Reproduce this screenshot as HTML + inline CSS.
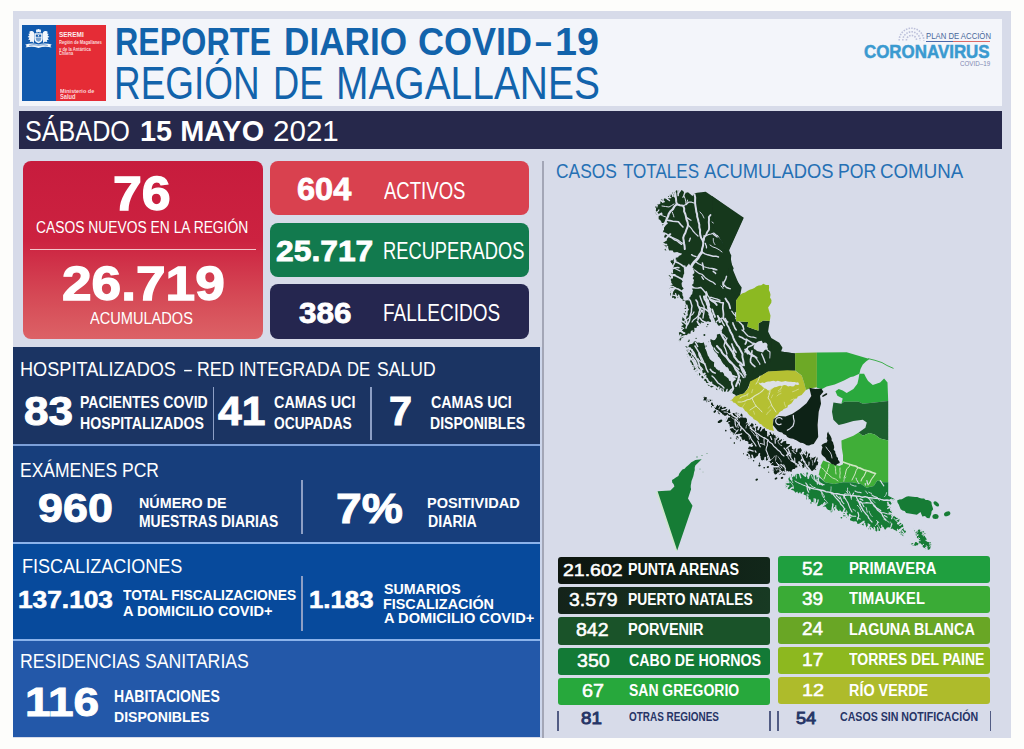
<!DOCTYPE html>
<html lang="es">
<head>
<meta charset="utf-8">
<title>Reporte Diario COVID-19 - Región de Magallanes</title>
<style>
html,body{margin:0;padding:0;}
body{width:1024px;height:749px;overflow:hidden;background:#fdfdfb;font-family:"Liberation Sans",sans-serif;position:relative;}
.b{position:absolute;}
.t{position:absolute;white-space:nowrap;line-height:1;transform-origin:0 0;letter-spacing:0;}
#card{left:13px;top:11px;width:998px;height:727px;background:#d7dbe9;}
#head{left:19px;top:19px;width:983px;height:87px;background:#f3f5fa;}
#bar{left:19px;top:111px;width:983px;height:38px;background:#26284b;}
#lgb{left:21.6px;top:25.3px;width:34.6px;height:76.1px;background:#1059ad;}
#lgr{left:56.1px;top:25.3px;width:49.9px;height:76.1px;background:#e52c36;}
#red{left:22.5px;top:160.5px;width:240px;height:178px;border-radius:8px;background:linear-gradient(180deg,#c71c3d 0%,#cc2240 45%,#d54855 75%,#dc6266 100%);}
#redline{left:29.5px;top:249.2px;width:226px;height:1.2px;background:#f3c6cb;}
.sb{left:269.7px;width:259.5px;border-radius:8px;}
#act{top:161px;height:54.2px;background:#d9414f;}
#rec{top:222.5px;height:54.7px;background:#127a4e;}
#fal{top:284px;height:54.8px;background:#25264f;}
.pn{left:13px;width:526.7px;}
#p1{top:347.2px;height:97.8px;background:#1b3463;}
#p2{top:445px;height:97.5px;background:#173e7c;}
#p3{top:542.5px;height:97.5px;background:#074a9c;}
#p4{top:640px;height:96.7px;background:#2358a9;}
.hl{left:13px;width:526.7px;height:2px;background:#7c9fd8;}
.vl{width:1.8px;background:#8d9fc5;}
#gv{left:541.9px;top:160.5px;width:1.8px;height:577px;background:#a3a6b6;}
.lg{height:27.2px;border-radius:3px;}
.ll{left:557.6px;width:212px;}
.lr{left:778.1px;width:212px;}
.nb{width:1.8px;top:710.5px;height:20px;background:#525c84;}
</style>
</head>
<body>
<div class="b" id="card"></div>
<div class="b" id="head"></div>
<div class="b" id="bar"></div>
<div class="b" id="lgb"></div>
<div class="b" id="lgr"></div>
<svg class="b" style="left:24.900px;top:29.100px" width="27" height="19.2" viewBox="0 0 27 19.2"><g fill="#fff" fill-opacity=".95">
<ellipse cx="12" cy="2" rx="1" ry="1.800"/><ellipse cx="13.500" cy="1.500" rx="1" ry="1.800"/><ellipse cx="15" cy="2" rx="1" ry="1.800"/>
<path d="M9.300 4.200h8.400v5.600q0 3.200-4.200 4.500q-4.200-1.300-4.200-4.500z"/>
<path d="M9 3.600c-1.200-1.800-3.600-1.900-4.900-.6l1 1.200-1.900.8 1.300 1.300-1.900 1.600 1.900.9-1.300 1.900 2 .4-.5 2 2.500-.3 1.800 1.200z"/>
<path d="M18 3.600c1.200-1.800 3.600-1.900 4.900-.6l-1 1.200 1.900.8-1.300 1.300 1.900 1.600-1.900.9 1.300 1.900-2 .4.500 2-2.500-.3-1.800 1.200z"/>
<path d="M.3 15.600q6.600-2.200 13.200-.2q6.600-2 13.200.2l-1.400 1.300 1.200 1.700q-6.500-1.700-13 .3q-6.500-2-13-.3l1.200-1.700z"/></g>
<g fill="#1059ad"><rect x="10.800" y="5.600" width="5.400" height="2.200"/><path d="M10.800 8.600h5.400v1.300q0 1.900-2.700 2.900q-2.700-1-2.700-2.900z" fill-opacity=".55"/><circle cx="13.500" cy="6.700" r=".7" fill="#fff"/>
<path d="M4 15.900q4.700-1.300 9.500-.1q4.800-1.200 9.500.1l-.2.900q-4.600-1.200-9.300 0q-4.700-1.200-9.300 0z" fill-opacity=".6"/></g></svg>

<div class="b" id="red"></div><div class="b" id="redline"></div>
<div class="b sb" id="act"></div><div class="b sb" id="rec"></div><div class="b sb" id="fal"></div>

<div class="b pn" id="p1"></div><div class="b pn" id="p2"></div><div class="b pn" id="p3"></div><div class="b pn" id="p4"></div>
<div class="b hl" style="top:444px"></div><div class="b hl" style="top:541.6px;background:#8bb3eb"></div><div class="b hl" style="top:638.900px;background:#8bb3eb"></div>
<div class="b" style="left:539.700px;top:347.200px;width:2.2px;height:389.5px;background:#cdd6eb"></div>
<div class="b vl" style="left:212.6px;top:387px;height:53px"></div>
<div class="b vl" style="left:370.2px;top:387px;height:53px"></div>
<div class="b vl" style="left:301.4px;top:480px;height:54px"></div>
<div class="b vl" style="left:301.4px;top:576px;height:55px"></div>
<div class="b" id="gv"></div>

<svg class="b" style="left:0;top:0" width="1024" height="749" viewBox="0 0 1024 749">
<defs><filter id="sf" x="640" y="180" width="330" height="380" filterUnits="userSpaceOnUse"><feGaussianBlur stdDeviation="0.4"/></filter></defs>
<g filter="url(#sf)">
<path d="M676.0 190.6L677.4 190.2L678.8 190.5L680.2 191.4L681.7 189.9L683.0 191.0L684.4 192.5L686.1 192.8L688.0 192.2L692.5 196.0L694.5 193.5L697.0 192.7L705.7 191.7L743.8 217.8L728.9 250.7L731.3 255.5L730.5 261.9L733.7 268.3L732.1 272.3L736.1 279.5L741.7 287.5L740.1 295.5L736.1 300.4L736.1 321.2L748.1 322.0L747.3 326.8L752.1 328.4L758.5 330.8L758.5 323.6L763.3 320.4L769.7 321.0L768.1 331.6L771.3 338.0L779.3 342.8L782.5 347.7L781.0 351.5L795.1 353.5L795.1 370.6L768.0 371.4L757.2 378.0L750.0 382.8L747.6 388.8L744.0 393.6L736.0 396.0L735.1 394.7L733.8 394.0L732.4 393.7L731.0 393.2L729.7 392.5L728.1 391.6L726.5 391.9L724.9 391.4L723.3 392.3L722.3 391.2L721.0 391.0L719.8 390.5L718.4 390.6L717.2 390.1L716.0 389.5L715.6 387.3L714.4 386.8L712.9 386.9L711.1 387.5L710.1 386.6L708.9 386.0L707.7 385.1L707.1 383.7L706.2 382.5L705.5 381.1L704.0 380.5L703.3 378.9L702.1 378.1L701.0 377.1L700.0 376.0L698.6 375.4L697.0 375.0L697.3 373.4L696.3 372.4L694.4 372.0L694.8 370.2L693.4 369.5L694.7 367.3L692.5 367.0L692.4 365.5L691.8 364.3L691.5 362.8L690.2 361.9L690.5 360.2L689.5 359.1L688.5 358.0L687.6 356.9L688.4 355.3L686.6 354.4L686.8 352.9L687.6 351.4L686.5 350.3L686.2 349.0L685.9 347.4L685.2 346.0L685.4 344.2L684.0 343.0L680.0 342.5L679.6 341.2L678.6 339.9L680.0 338.2L678.8 337.0L679.3 335.7L679.2 334.2L678.8 332.7L680.6 331.6L680.5 330.2L681.0 328.8L681.3 327.5L681.2 326.0L683.7 325.1L682.1 323.4L681.5 321.9L682.4 320.7L682.1 319.3L682.5 318.0L682.6 316.6L684.5 315.6L683.5 314.0L684.0 312.7L685.1 311.5L686.0 310.3L684.3 308.4L686.2 307.4L685.3 305.7L686.0 304.4L685.5 302.8L685.3 300.9L682.8 301.1L682.6 299.2L681.0 298.5L679.6 297.1L678.0 298.2L676.5 297.6L674.9 299.0L673.5 297.4L672.0 297.9L672.2 296.5L670.2 295.7L670.1 294.4L670.3 293.0L670.1 291.7L671.9 289.8L669.6 289.1L669.0 287.6L671.0 286.7L670.4 285.2L672.9 284.5L671.2 282.7L671.3 281.2L670.7 279.9L669.6 278.8L670.9 277.0L668.9 276.1L668.8 274.7L670.9 274.6L671.3 273.1L672.2 272.1L673.1 271.0L672.7 268.7L674.4 268.3L672.9 267.6L673.4 265.7L672.2 264.8L671.9 263.4L670.6 262.5L670.4 261.1L671.5 260.3L673.0 260.2L673.7 258.9L674.4 257.5L676.4 258.0L677.0 256.5L681.6 253.9L672.0 252.3L671.0 250.5L669.4 251.5L667.7 252.8L666.6 251.7L665.3 251.1L664.0 250.7L665.0 249.1L665.4 247.6L664.8 246.4L663.6 245.3L662.4 244.3L663.1 242.7L664.4 241.9L665.8 241.1L667.2 240.3L666.5 239.0L665.1 238.2L664.2 237.1L664.4 235.2L664.9 233.1L662.4 233.0L662.7 231.3L664.0 230.0L664.0 228.2L664.0 226.8L662.8 225.9L662.4 224.6L661.7 223.5L661.5 222.1L660.8 221.0L660.2 219.9L658.7 219.3L658.6 217.8L658.7 216.1L658.0 215.1L656.2 214.7L655.3 213.7L655.2 212.2L655.7 210.9L656.0 209.6L656.1 208.2L654.9 206.8L658.2 205.8L656.0 204.2L657.9 204.5L659.4 204.2L660.5 203.3L660.0 200.2L661.3 199.6L663.1 199.7L664.0 198.6L665.8 198.4L667.3 197.9L667.9 196.3L669.4 195.7L670.0 194.0L671.4 193.8L672.0 191.9L673.7 192.1L675.4 192.4Z" fill="#17371f"/>
<path d="M680.5 189.8L679.9 191.2L679.1 192.4L678.3 193.7" fill="none" stroke="#d7dbe9" stroke-width="1.4" stroke-linecap="round" stroke-linejoin="round"/>
<path d="M677.8 189.7L678.1 191.1L678.1 192.6L678.1 194.1L678.2 195.6" fill="none" stroke="#d7dbe9" stroke-width="1.5" stroke-linecap="round" stroke-linejoin="round"/>
<path d="M684.4 190.2L684.7 191.6L684.5 193.1L684.2 194.6L683.6 196.0L682.9 197.3" fill="none" stroke="#d7dbe9" stroke-width="1.3" stroke-linecap="round" stroke-linejoin="round"/>
<path d="M684.4 190.1L684.7 191.6L685.2 193.0" fill="none" stroke="#d7dbe9" stroke-width="1.1" stroke-linecap="round" stroke-linejoin="round"/>
<path d="M729.5 393.4L730.8 392.6L731.9 391.6L732.8 390.4" fill="none" stroke="#d7dbe9" stroke-width="1.3" stroke-linecap="round" stroke-linejoin="round"/>
<path d="M732.4 395.0L732.0 393.6L731.4 392.2L730.6 390.9" fill="none" stroke="#d7dbe9" stroke-width="1.5" stroke-linecap="round" stroke-linejoin="round"/>
<path d="M725.3 393.5L726.1 392.3L726.7 390.9L727.1 389.5" fill="none" stroke="#d7dbe9" stroke-width="1.4" stroke-linecap="round" stroke-linejoin="round"/>
<path d="M728.2 393.6L729.1 392.4L730.1 391.2L730.9 390.0L732.1 389.1L733.4 388.3" fill="none" stroke="#d7dbe9" stroke-width="1.8" stroke-linecap="round" stroke-linejoin="round"/>
<path d="M718.0 391.4L718.3 390.0L718.6 388.5L718.9 387.0" fill="none" stroke="#d7dbe9" stroke-width="1.5" stroke-linecap="round" stroke-linejoin="round"/>
<path d="M721.8 392.8L721.1 391.5L720.7 390.0L720.9 388.5" fill="none" stroke="#d7dbe9" stroke-width="1.6" stroke-linecap="round" stroke-linejoin="round"/>
<path d="M714.6 390.1L715.0 388.7L714.9 387.2" fill="none" stroke="#d7dbe9" stroke-width="1.4" stroke-linecap="round" stroke-linejoin="round"/>
<path d="M708.7 387.2L709.7 386.1L710.8 385.1L711.4 383.7L711.7 382.2" fill="none" stroke="#d7dbe9" stroke-width="1.2" stroke-linecap="round" stroke-linejoin="round"/>
<path d="M706.0 384.2L707.5 383.7L708.9 383.4L710.4 383.2" fill="none" stroke="#d7dbe9" stroke-width="1.1" stroke-linecap="round" stroke-linejoin="round"/>
<path d="M705.6 383.8L707.1 383.9L708.5 384.0L709.9 384.5L711.4 385.0" fill="none" stroke="#d7dbe9" stroke-width="1.4" stroke-linecap="round" stroke-linejoin="round"/>
<path d="M698.5 377.7L699.8 376.8L700.8 375.8L702.1 374.9L703.5 374.4L704.8 373.6" fill="none" stroke="#d7dbe9" stroke-width="1.9" stroke-linecap="round" stroke-linejoin="round"/>
<path d="M702.5 380.8L703.4 379.6L704.1 378.3L705.1 377.2L705.7 375.8" fill="none" stroke="#d7dbe9" stroke-width="1.7" stroke-linecap="round" stroke-linejoin="round"/>
<path d="M699.0 378.1L699.6 376.7L700.6 375.6L701.5 374.4" fill="none" stroke="#d7dbe9" stroke-width="1.4" stroke-linecap="round" stroke-linejoin="round"/>
<path d="M698.6 377.5L698.3 376.0L698.2 374.5L697.7 373.1" fill="none" stroke="#d7dbe9" stroke-width="1.8" stroke-linecap="round" stroke-linejoin="round"/>
<path d="M693.6 371.4L694.9 370.7L696.1 369.7L697.1 368.6" fill="none" stroke="#d7dbe9" stroke-width="1.6" stroke-linecap="round" stroke-linejoin="round"/>
<path d="M694.4 372.8L695.9 372.6L697.2 371.9L698.5 371.2L699.7 370.2" fill="none" stroke="#d7dbe9" stroke-width="1.8" stroke-linecap="round" stroke-linejoin="round"/>
<path d="M693.9 371.9L695.2 371.1L696.6 370.7L697.9 369.9" fill="none" stroke="#d7dbe9" stroke-width="1.1" stroke-linecap="round" stroke-linejoin="round"/>
<path d="M695.5 374.6L696.5 373.6L697.9 372.9L699.1 372.1L700.6 371.7" fill="none" stroke="#d7dbe9" stroke-width="2.0" stroke-linecap="round" stroke-linejoin="round"/>
<path d="M688.7 360.8L689.4 359.5L689.8 358.0L690.7 356.8L691.5 355.5L691.9 354.1" fill="none" stroke="#d7dbe9" stroke-width="1.1" stroke-linecap="round" stroke-linejoin="round"/>
<path d="M690.6 365.6L692.1 365.6L693.5 366.1" fill="none" stroke="#d7dbe9" stroke-width="1.4" stroke-linecap="round" stroke-linejoin="round"/>
<path d="M688.1 359.8L689.4 359.1L690.9 358.8L692.4 358.7" fill="none" stroke="#d7dbe9" stroke-width="1.6" stroke-linecap="round" stroke-linejoin="round"/>
<path d="M685.1 349.7L686.5 349.1L687.9 348.6L689.4 348.3" fill="none" stroke="#d7dbe9" stroke-width="1.6" stroke-linecap="round" stroke-linejoin="round"/>
<path d="M687.8 358.7L688.4 357.3L688.5 355.8" fill="none" stroke="#d7dbe9" stroke-width="1.3" stroke-linecap="round" stroke-linejoin="round"/>
<path d="M686.4 354.0L687.2 352.8L688.5 351.9L689.4 350.8" fill="none" stroke="#d7dbe9" stroke-width="1.3" stroke-linecap="round" stroke-linejoin="round"/>
<path d="M683.0 343.8L684.5 343.7L686.0 343.9" fill="none" stroke="#d7dbe9" stroke-width="1.9" stroke-linecap="round" stroke-linejoin="round"/>
<path d="M684.5 347.3L685.8 347.9L687.3 348.3L688.6 349.0L690.0 349.6" fill="none" stroke="#d7dbe9" stroke-width="1.3" stroke-linecap="round" stroke-linejoin="round"/>
<path d="M684.8 348.1L686.2 348.6L687.7 348.9" fill="none" stroke="#d7dbe9" stroke-width="1.3" stroke-linecap="round" stroke-linejoin="round"/>
<path d="M678.2 338.8L679.0 337.5L679.8 336.2L680.7 335.0" fill="none" stroke="#d7dbe9" stroke-width="1.9" stroke-linecap="round" stroke-linejoin="round"/>
<path d="M677.9 337.4L679.4 337.4L680.8 337.1L682.3 336.7L683.6 336.1" fill="none" stroke="#d7dbe9" stroke-width="1.4" stroke-linecap="round" stroke-linejoin="round"/>
<path d="M679.1 330.4L680.5 331.1L681.8 331.8L683.1 332.5L684.5 333.1" fill="none" stroke="#d7dbe9" stroke-width="1.8" stroke-linecap="round" stroke-linejoin="round"/>
<path d="M679.3 329.2L680.8 329.3L682.3 329.2" fill="none" stroke="#d7dbe9" stroke-width="1.4" stroke-linecap="round" stroke-linejoin="round"/>
<path d="M680.0 326.0L681.1 326.9L682.5 327.7L683.7 328.5" fill="none" stroke="#d7dbe9" stroke-width="1.2" stroke-linecap="round" stroke-linejoin="round"/>
<path d="M682.4 314.3L683.6 315.2L684.7 316.2L685.6 317.4" fill="none" stroke="#d7dbe9" stroke-width="1.6" stroke-linecap="round" stroke-linejoin="round"/>
<path d="M681.1 320.3L682.3 321.3L683.6 322.0L684.7 323.0L685.9 323.9L686.7 325.2" fill="none" stroke="#d7dbe9" stroke-width="1.4" stroke-linecap="round" stroke-linejoin="round"/>
<path d="M683.5 310.5L685.0 310.2L686.4 309.6L687.9 309.5" fill="none" stroke="#d7dbe9" stroke-width="2.0" stroke-linecap="round" stroke-linejoin="round"/>
<path d="M677.2 299.4L676.7 298.0L676.5 296.5L676.0 295.1L675.6 293.7" fill="none" stroke="#d7dbe9" stroke-width="1.3" stroke-linecap="round" stroke-linejoin="round"/>
<path d="M679.8 299.6L679.2 298.2L679.0 296.7L678.6 295.3" fill="none" stroke="#d7dbe9" stroke-width="1.7" stroke-linecap="round" stroke-linejoin="round"/>
<path d="M670.8 296.8L671.5 295.5L671.7 294.0L672.1 292.6L672.3 291.1L672.9 289.7" fill="none" stroke="#d7dbe9" stroke-width="1.8" stroke-linecap="round" stroke-linejoin="round"/>
<path d="M669.3 292.4L670.7 292.0L672.1 291.4L673.2 290.4L674.0 289.1L674.8 287.8" fill="none" stroke="#d7dbe9" stroke-width="1.7" stroke-linecap="round" stroke-linejoin="round"/>
<path d="M668.7 290.4L670.0 289.7L671.5 289.3L672.9 288.7" fill="none" stroke="#d7dbe9" stroke-width="1.2" stroke-linecap="round" stroke-linejoin="round"/>
<path d="M669.2 287.0L670.1 288.2L671.3 289.2L672.0 290.5" fill="none" stroke="#d7dbe9" stroke-width="1.2" stroke-linecap="round" stroke-linejoin="round"/>
<path d="M669.2 285.9L670.6 286.4L672.1 286.6L673.6 286.8" fill="none" stroke="#d7dbe9" stroke-width="1.3" stroke-linecap="round" stroke-linejoin="round"/>
<path d="M669.2 280.1L670.3 279.1L671.1 277.8L672.1 276.7" fill="none" stroke="#d7dbe9" stroke-width="1.4" stroke-linecap="round" stroke-linejoin="round"/>
<path d="M669.7 272.3L670.3 273.7L671.2 274.9L671.9 276.2L672.1 277.7" fill="none" stroke="#d7dbe9" stroke-width="1.9" stroke-linecap="round" stroke-linejoin="round"/>
<path d="M671.7 269.9L672.1 271.3L672.4 272.8" fill="none" stroke="#d7dbe9" stroke-width="1.5" stroke-linecap="round" stroke-linejoin="round"/>
<path d="M667.7 274.3L669.2 274.4L670.6 275.0L672.1 275.1L673.5 274.7L675.0 274.6" fill="none" stroke="#d7dbe9" stroke-width="1.4" stroke-linecap="round" stroke-linejoin="round"/>
<path d="M673.3 268.7L674.6 268.0L676.0 267.6L677.5 267.5L679.0 267.7" fill="none" stroke="#d7dbe9" stroke-width="1.4" stroke-linecap="round" stroke-linejoin="round"/>
<path d="M672.4 266.9L673.0 265.6L673.8 264.3L674.5 263.0L675.2 261.6L675.8 260.3" fill="none" stroke="#d7dbe9" stroke-width="1.5" stroke-linecap="round" stroke-linejoin="round"/>
<path d="M674.7 256.8L674.9 258.3L674.8 259.8L674.6 261.3" fill="none" stroke="#d7dbe9" stroke-width="1.8" stroke-linecap="round" stroke-linejoin="round"/>
<path d="M669.1 252.8L668.5 251.5L668.0 250.1L667.5 248.7" fill="none" stroke="#d7dbe9" stroke-width="1.8" stroke-linecap="round" stroke-linejoin="round"/>
<path d="M664.7 251.7L663.6 250.7L662.5 249.7L661.2 248.9L659.9 248.2L658.8 247.1" fill="none" stroke="#d7dbe9" stroke-width="1.3" stroke-linecap="round" stroke-linejoin="round"/>
<path d="M668.2 252.5L667.5 251.3L667.1 249.8L667.2 248.3L667.3 246.8" fill="none" stroke="#d7dbe9" stroke-width="1.9" stroke-linecap="round" stroke-linejoin="round"/>
<path d="M661.5 244.5L662.7 245.4L664.0 246.1L665.1 247.1L666.0 248.3L667.0 249.5" fill="none" stroke="#d7dbe9" stroke-width="1.8" stroke-linecap="round" stroke-linejoin="round"/>
<path d="M662.1 243.4L663.5 243.9L664.9 244.4L666.4 244.7" fill="none" stroke="#d7dbe9" stroke-width="1.8" stroke-linecap="round" stroke-linejoin="round"/>
<path d="M665.2 239.3L666.0 238.1L667.1 237.1L668.5 236.4L669.5 235.4" fill="none" stroke="#d7dbe9" stroke-width="1.2" stroke-linecap="round" stroke-linejoin="round"/>
<path d="M665.3 239.6L666.2 238.4L667.2 237.2L668.1 236.0L669.1 235.0L670.4 234.1" fill="none" stroke="#d7dbe9" stroke-width="1.8" stroke-linecap="round" stroke-linejoin="round"/>
<path d="M662.1 231.1L662.8 232.4L663.7 233.6L664.6 234.8" fill="none" stroke="#d7dbe9" stroke-width="1.4" stroke-linecap="round" stroke-linejoin="round"/>
<path d="M662.6 227.5L663.7 226.5L664.6 225.3L665.5 224.1L666.8 223.3" fill="none" stroke="#d7dbe9" stroke-width="1.9" stroke-linecap="round" stroke-linejoin="round"/>
<path d="M660.6 223.5L662.1 223.6L663.6 223.4L665.1 223.0L666.6 223.2" fill="none" stroke="#d7dbe9" stroke-width="1.3" stroke-linecap="round" stroke-linejoin="round"/>
<path d="M655.4 214.6L656.0 213.3L657.0 212.2L658.1 211.1L658.9 209.9" fill="none" stroke="#d7dbe9" stroke-width="1.2" stroke-linecap="round" stroke-linejoin="round"/>
<path d="M655.8 215.3L657.2 215.0L658.7 214.8L660.2 214.5L661.7 214.4" fill="none" stroke="#d7dbe9" stroke-width="1.7" stroke-linecap="round" stroke-linejoin="round"/>
<path d="M656.4 216.3L657.7 215.6L659.1 214.9L660.3 214.1L661.6 213.3" fill="none" stroke="#d7dbe9" stroke-width="1.6" stroke-linecap="round" stroke-linejoin="round"/>
<path d="M654.3 211.0L655.6 211.8L656.6 212.9L657.7 213.9" fill="none" stroke="#d7dbe9" stroke-width="1.6" stroke-linecap="round" stroke-linejoin="round"/>
<path d="M659.9 200.0L661.1 200.9L662.5 201.5L664.0 201.7" fill="none" stroke="#d7dbe9" stroke-width="1.8" stroke-linecap="round" stroke-linejoin="round"/>
<path d="M663.0 198.0L663.2 199.4L663.1 200.9L662.7 202.4" fill="none" stroke="#d7dbe9" stroke-width="1.2" stroke-linecap="round" stroke-linejoin="round"/>
<path d="M656.5 202.5L656.5 204.0L657.0 205.4L657.0 206.9" fill="none" stroke="#d7dbe9" stroke-width="1.2" stroke-linecap="round" stroke-linejoin="round"/>
<path d="M664.7 196.9L665.9 197.7L667.1 198.7L668.3 199.6L669.5 200.5" fill="none" stroke="#d7dbe9" stroke-width="1.4" stroke-linecap="round" stroke-linejoin="round"/>
<path d="M666.8 195.0L667.3 196.5L667.5 197.9L667.5 199.4" fill="none" stroke="#d7dbe9" stroke-width="1.2" stroke-linecap="round" stroke-linejoin="round"/>
<path d="M665.0 196.4L666.4 196.9L667.8 197.5L669.3 197.7L670.8 197.6" fill="none" stroke="#d7dbe9" stroke-width="1.3" stroke-linecap="round" stroke-linejoin="round"/>
<path d="M671.3 192.1L671.7 193.5L672.5 194.8L672.9 196.2" fill="none" stroke="#d7dbe9" stroke-width="1.6" stroke-linecap="round" stroke-linejoin="round"/>
<path d="M670.3 192.5L670.2 194.0L669.9 195.5L669.5 196.9" fill="none" stroke="#d7dbe9" stroke-width="1.4" stroke-linecap="round" stroke-linejoin="round"/>
<path d="M672.3 191.3L673.3 192.5L673.9 193.9L674.3 195.3L674.6 196.8" fill="none" stroke="#d7dbe9" stroke-width="1.3" stroke-linecap="round" stroke-linejoin="round"/>
<path d="M679.0 339.5L680.6 338.7L682.3 337.9L683.7 336.9L684.5 334.8L686.9 335.2L688.0 333.5L690.4 333.8L690.7 331.5L691.9 330.3L694.5 330.8L694.2 327.8L696.4 328.0L697.0 326.0L699.2 326.1L700.3 324.4L701.0 322.3L703.7 323.0L704.5 321.0L706.0 322.2L708.0 321.2L709.6 322.0L711.4 321.7L713.0 322.5L714.5 323.3L716.5 322.5L717.6 324.6L718.9 326.0L721.0 324.7L722.5 325.5L723.3 327.2L722.7 328.8L721.6 330.3L722.0 332.0L721.0 333.5L719.0 334.0L716.9 334.5L716.9 336.9L716.0 338.5L714.9 340.1L713.1 340.3L710.5 339.0L710.3 342.2L708.5 342.5L706.5 343.2L704.3 342.1L702.3 343.0L700.6 343.0L699.0 342.4L697.2 342.8L695.8 341.3L694.0 341.5L693.1 343.2L691.6 344.1L689.7 344.3L688.6 345.7L687.0 346.5L685.1 346.2L683.4 345.0L681.7 343.6L679.5 345.0Z" fill="#d7dbe9"/>
<path d="M703.5 341.5L705.5 341.8L707.5 341.1L709.5 341.0L711.0 342.3L711.2 344.3L712.2 345.9L713.2 347.5L713.3 349.5L714.5 351.0L715.4 352.5L716.8 353.6L717.9 354.9L717.8 357.0L718.7 358.5L720.7 359.3L720.7 361.3L722.0 362.5L722.2 364.9L724.8 364.8L725.3 366.9L727.5 367.3L728.6 368.8L729.3 370.7L731.0 371.5L731.8 373.2L732.6 375.0L734.6 375.9L735.2 377.8L736.0 379.5L734.0 380.7L732.5 382.5L731.6 380.9L729.5 380.6L729.1 378.4L727.3 377.7L726.0 376.5L724.4 375.7L723.9 373.7L722.8 372.3L720.6 372.2L719.2 371.1L718.0 369.9L716.4 369.1L715.5 367.5L714.0 366.5L714.0 364.4L714.2 362.2L712.4 361.3L711.0 360.2L709.8 358.9L709.3 357.2L708.0 356.0Z" fill="#d7dbe9"/>
<path d="M689.0 263.5L690.1 265.4L691.6 266.9L693.5 268.0L693.5 269.7L694.3 271.4L694.4 273.1L692.3 274.9L694.0 276.6L692.7 278.3L694.0 280.0L693.6 281.7L693.5 283.4L691.8 284.9L693.9 287.0L691.7 288.4L693.0 290.3L692.5 292.0L692.2 293.9L690.9 295.3L690.3 297.0L688.3 298.2L689.0 300.5L687.2 300.2L685.3 300.8L683.5 300.5L683.2 298.8L683.4 296.9L682.4 295.3L682.5 293.5L681.8 291.8L682.0 290.0L683.7 288.4L682.0 286.6L681.7 284.8L681.6 283.1L682.7 281.4L681.6 279.7L682.5 278.0L683.2 276.5L683.4 274.9L684.2 273.4L684.1 271.7L684.0 269.9L685.0 268.5Z" fill="#d7dbe9"/>
<path d="M706.7 291.0L707.4 292.7L708.0 294.5L707.1 296.6L707.4 298.5L709.0 300.0L709.1 301.7L709.6 303.4L710.2 305.1L709.2 307.0L711.1 308.5L710.8 310.3L711.0 312.0L711.1 313.8L712.0 315.4L712.5 317.1L712.5 318.8L712.9 320.5L713.1 322.3L713.5 324.0L711.0 324.5L711.0 322.8L711.1 321.0L710.4 319.5L709.3 318.0L709.3 316.3L708.3 314.8L708.5 313.0L708.0 311.3L707.4 309.6L707.0 307.9L707.3 306.1L707.1 304.4L707.1 302.6L706.0 301.0L705.7 299.2L705.0 297.5L705.1 295.6L705.5 293.7L704.5 292.0Z" fill="#d7dbe9"/>
<path d="M755.0 343.5L756.6 342.6L758.1 341.4L760.0 341.0L761.8 340.8L762.9 343.3L764.9 342.6L766.5 343.0L767.6 344.8L767.2 347.1L768.0 349.0L765.9 349.5L764.2 350.6L763.0 352.5L761.0 352.0L759.0 351.4L757.0 351.0L755.7 349.8L754.0 348.9L753.5 347.0Z" fill="#d7dbe9"/>
<path d="M661.0 249.5L662.7 249.8L664.3 250.1L666.0 250.4L667.6 250.6L669.3 250.4L671.0 250.5L672.7 250.6L673.8 252.7L675.6 252.2L677.3 252.0L678.8 252.8L680.4 253.3L682.0 253.5L681.0 255.1L678.9 255.8L678.0 257.5L676.3 256.9L674.6 255.5L672.5 257.4L670.8 256.5L669.0 256.0L667.3 255.8L665.8 255.0L664.2 254.7L662.8 253.4L661.0 254.0Z" fill="#d7dbe9"/>
<ellipse cx="696.1" cy="338.4" rx="0.6" ry="0.6" fill="#17371f"/>
<ellipse cx="689.1" cy="340.3" rx="0.6" ry="0.9" fill="#17371f"/>
<ellipse cx="707.8" cy="324.5" rx="0.8" ry="0.7" fill="#17371f"/>
<ellipse cx="719.9" cy="331.3" rx="0.6" ry="0.7" fill="#17371f"/>
<ellipse cx="704.4" cy="335.0" rx="1.0" ry="0.9" fill="#17371f"/>
<ellipse cx="680.3" cy="339.7" rx="0.9" ry="0.8" fill="#17371f"/>
<ellipse cx="688.5" cy="341.3" rx="0.9" ry="0.6" fill="#17371f"/>
<ellipse cx="706.9" cy="326.6" rx="0.5" ry="0.7" fill="#17371f"/>
<ellipse cx="693.5" cy="331.1" rx="0.8" ry="0.9" fill="#17371f"/>
<ellipse cx="719.6" cy="370.9" rx="0.5" ry="0.7" fill="#17371f"/>
<ellipse cx="734.2" cy="377.6" rx="0.6" ry="0.4" fill="#17371f"/>
<ellipse cx="730.9" cy="375.7" rx="0.9" ry="0.5" fill="#17371f"/>
<ellipse cx="706.1" cy="346.0" rx="0.9" ry="0.5" fill="#17371f"/>
<ellipse cx="708.7" cy="341.8" rx="0.4" ry="0.4" fill="#17371f"/>
<ellipse cx="722.2" cy="373.0" rx="0.7" ry="0.5" fill="#17371f"/>
<ellipse cx="714.2" cy="351.1" rx="0.6" ry="0.9" fill="#17371f"/>
<path d="M694.5 194.6L695.2 197.4L695.1 200.4L695.1 203.3L695.5 206.1L696.0 209.0L696.3 211.6L697.1 214.1L697.2 216.7L698.0 219.2L698.5 221.8L699.3 224.5L699.3 227.4L700.1 230.1L700.0 233.0L700.4 235.6L701.2 238.0L702.6 240.2L703.3 242.7L703.0 245.9L702.0 249.1L701.7 252.3" fill="none" stroke="#d7dbe9" stroke-width="2.0" stroke-linecap="round" stroke-linejoin="round"/>
<path d="M701.7 252.3L699.7 254.9L698.1 257.8L696.0 260.3L694.0 262.2L692.5 264.3L691.2 266.7" fill="none" stroke="#d7dbe9" stroke-width="2.8" stroke-linecap="round" stroke-linejoin="round"/>
<path d="M703.0 240.0L704.2 237.3L706.1 235.0L707.1 232.2L708.9 229.8L709.1 227.2L709.0 224.7L708.8 222.1L709.0 219.6L708.9 217.0L710.5 215.0" fill="none" stroke="#d7dbe9" stroke-width="1.9" stroke-linecap="round" stroke-linejoin="round"/>
<path d="M703.5 236.0L706.2 235.7L708.6 234.5L711.2 234.0L713.7 233.0L715.7 234.8L718.1 236.0L720.0 237.9L722.0 240.1L723.3 242.7" fill="none" stroke="#d7dbe9" stroke-width="1.2" stroke-linecap="round" stroke-linejoin="round"/>
<path d="M702.5 252.3L705.0 253.8L707.7 254.8L710.5 255.5L713.1 256.2L715.9 256.2L718.5 257.0" fill="none" stroke="#d7dbe9" stroke-width="1.4" stroke-linecap="round" stroke-linejoin="round"/>
<path d="M696.0 261.9L698.5 263.8L701.4 265.0L704.0 266.7L706.6 267.5L709.2 268.2L712.0 268.3L714.5 268.9L716.9 269.9" fill="none" stroke="#d7dbe9" stroke-width="1.2" stroke-linecap="round" stroke-linejoin="round"/>
<path d="M694.5 269.9L696.8 271.7L699.0 273.4L701.9 274.3L704.0 276.3L705.9 278.3L708.1 279.8L710.5 281.1L713.1 282.3L715.3 284.3" fill="none" stroke="#d7dbe9" stroke-width="1.2" stroke-linecap="round" stroke-linejoin="round"/>
<path d="M726.5 276.3L725.7 279.1L724.3 281.6L723.3 284.3L726.5 287.5L729.3 288.5L732.1 288.7L735.0 289.0" fill="none" stroke="#d7dbe9" stroke-width="1.4" stroke-linecap="round" stroke-linejoin="round"/>
<path d="M690.0 288.0L692.7 287.5L695.5 288.1L698.2 288.0L700.9 287.5L703.0 289.8L705.1 292.2L707.1 294.5L708.9 297.1L711.8 297.5L714.5 298.4L717.3 299.2L720.0 300.3" fill="none" stroke="#d7dbe9" stroke-width="1.3" stroke-linecap="round" stroke-linejoin="round"/>
<path d="M676.8 204.2L676.2 201.4L676.0 198.6L675.6 195.8L675.2 193.0" fill="none" stroke="#d7dbe9" stroke-width="2.0" stroke-linecap="round" stroke-linejoin="round"/>
<path d="M676.8 204.2L674.5 206.3L672.9 209.1L670.6 211.2L668.8 213.8L668.0 216.6L666.7 219.1L665.6 221.8L664.5 224.5L663.0 227.0" fill="none" stroke="#d7dbe9" stroke-width="2.2" stroke-linecap="round" stroke-linejoin="round"/>
<path d="M676.8 204.2L679.9 205.3L683.2 205.8L684.2 208.5L684.1 211.4L685.3 214.0L686.0 216.7L686.5 219.5L687.6 222.2L688.0 225.0L687.3 227.7L686.2 230.2L685.4 232.8L684.0 235.3L683.2 237.9L683.7 240.7L684.1 243.5L684.6 246.3L684.8 249.1" fill="none" stroke="#d7dbe9" stroke-width="2.0" stroke-linecap="round" stroke-linejoin="round"/>
<path d="M667.2 220.2L670.0 220.6L672.8 221.2L675.6 221.5L678.4 221.8L680.6 224.5L683.0 227.0" fill="none" stroke="#d7dbe9" stroke-width="1.6" stroke-linecap="round" stroke-linejoin="round"/>
<path d="M664.0 233.0L666.9 234.2L669.1 236.6L672.0 237.9L674.3 239.7L677.1 240.7L679.2 242.7L681.6 244.3" fill="none" stroke="#d7dbe9" stroke-width="1.5" stroke-linecap="round" stroke-linejoin="round"/>
<path d="M688.0 225.0L689.9 226.8L691.6 228.7L693.0 231.0L695.4 233.6L698.0 236.0" fill="none" stroke="#d7dbe9" stroke-width="1.2" stroke-linecap="round" stroke-linejoin="round"/>
<path d="M683.0 206.0L686.2 204.3L689.0 202.0L691.6 202.2L694.0 203.0" fill="none" stroke="#d7dbe9" stroke-width="1.2" stroke-linecap="round" stroke-linejoin="round"/>
<path d="M670.0 236.0L672.5 237.6L675.3 238.8L678.0 240.0L680.9 242.2L684.0 244.0" fill="none" stroke="#d7dbe9" stroke-width="1.1" stroke-linecap="round" stroke-linejoin="round"/>
<path d="M676.0 262.0L678.5 263.1L680.8 264.4L683.0 266.0L685.6 267.9L688.0 270.0" fill="none" stroke="#d7dbe9" stroke-width="1.6" stroke-linecap="round" stroke-linejoin="round"/>
<path d="M670.0 274.0L672.6 275.2L675.4 275.7L678.0 277.0L681.2 278.7L684.0 281.0" fill="none" stroke="#d7dbe9" stroke-width="1.6" stroke-linecap="round" stroke-linejoin="round"/>
<path d="M670.0 288.0L672.6 288.8L675.4 288.3L678.0 289.0L680.9 290.8L684.0 292.0" fill="none" stroke="#d7dbe9" stroke-width="1.6" stroke-linecap="round" stroke-linejoin="round"/>
<path d="M674.0 268.0L677.0 269.5L680.0 271.0" fill="none" stroke="#d7dbe9" stroke-width="1.2" stroke-linecap="round" stroke-linejoin="round"/>
<path d="M672.0 295.0L675.1 295.6L678.0 297.0" fill="none" stroke="#d7dbe9" stroke-width="1.2" stroke-linecap="round" stroke-linejoin="round"/>
<path d="M662.0 206.0L665.5 206.5L669.0 207.0L671.5 205.6L674.0 204.0" fill="none" stroke="#d7dbe9" stroke-width="1.0" stroke-linecap="round" stroke-linejoin="round"/>
<path d="M684.0 196.0L685.1 198.6L685.7 201.2L686.0 204.0" fill="none" stroke="#d7dbe9" stroke-width="1.0" stroke-linecap="round" stroke-linejoin="round"/>
<path d="M660.0 214.0L662.8 215.9L666.0 217.0" fill="none" stroke="#d7dbe9" stroke-width="1.0" stroke-linecap="round" stroke-linejoin="round"/>
<path d="M710.0 245.0L712.8 246.9L716.0 248.0L719.2 249.8L722.0 252.0" fill="none" stroke="#d7dbe9" stroke-width="1.0" stroke-linecap="round" stroke-linejoin="round"/>
<path d="M712.0 222.0L715.0 224.1L718.0 226.0" fill="none" stroke="#d7dbe9" stroke-width="0.9" stroke-linecap="round" stroke-linejoin="round"/>
<path d="M700.0 212.0L702.4 214.7L704.0 218.0" fill="none" stroke="#d7dbe9" stroke-width="0.9" stroke-linecap="round" stroke-linejoin="round"/>
<path d="M704.0 296.4L704.7 299.2L706.4 301.6L707.2 304.4L708.7 306.9L709.9 309.6L710.5 312.4L711.8 314.8L712.3 317.6L713.6 320.0L714.2 322.7L715.3 325.2L716.5 327.4L717.9 329.5L719.7 331.4L721.0 333.5L722.1 335.8L723.3 338.0L725.0 340.4L726.2 343.1L727.9 345.4L729.7 347.7L731.0 349.9L732.5 352.0L733.6 354.4L734.4 356.9L736.0 358.9L737.9 361.3L740.5 363.0L742.5 365.3" fill="none" stroke="#d7dbe9" stroke-width="2.1" stroke-linecap="round" stroke-linejoin="round"/>
<path d="M710.5 299.6L713.0 300.3L715.6 301.2L718.2 301.3L720.6 302.5L723.3 302.8L722.9 305.7L722.8 308.6L723.2 311.4L723.5 314.3L723.3 317.2L724.3 319.9L726.2 322.1L727.1 324.9L728.7 327.3L729.7 330.0" fill="none" stroke="#d7dbe9" stroke-width="1.7" stroke-linecap="round" stroke-linejoin="round"/>
<path d="M729.7 330.0L730.9 332.6L732.4 335.1L733.3 337.8L734.5 340.5L736.0 342.9L737.2 345.2L739.0 347.1L740.1 349.4L741.3 351.7L742.5 354.0L742.4 356.9L743.1 359.7L743.6 362.5L744.0 365.3" fill="none" stroke="#d7dbe9" stroke-width="1.9" stroke-linecap="round" stroke-linejoin="round"/>
<path d="M739.3 336.4L741.9 337.5L744.3 339.2L747.1 339.9L749.6 341.4L752.0 342.9L754.5 343.6L756.7 344.8L759.3 345.1L761.7 346.0" fill="none" stroke="#d7dbe9" stroke-width="1.6" stroke-linecap="round" stroke-linejoin="round"/>
<path d="M752.0 350.9L751.7 353.7L751.3 356.5L750.5 359.2L750.5 362.0L752.6 364.7L755.3 366.9" fill="none" stroke="#d7dbe9" stroke-width="1.6" stroke-linecap="round" stroke-linejoin="round"/>
<path d="M761.7 354.0L762.9 356.8L764.1 359.6L765.1 362.6L766.5 365.3L765.0 370.0" fill="none" stroke="#d7dbe9" stroke-width="1.4" stroke-linecap="round" stroke-linejoin="round"/>
<path d="M716.9 346.0L718.8 348.2L721.0 350.3L722.3 353.1L724.3 355.3L726.5 357.3L728.3 359.9L730.2 362.3L732.9 364.2L734.5 366.9L735.5 369.4L737.2 371.5L738.2 374.0L739.3 376.5L738.5 378.9L737.9 381.3L736.8 383.6L736.0 386.0" fill="none" stroke="#d7dbe9" stroke-width="2.0" stroke-linecap="round" stroke-linejoin="round"/>
<path d="M707.3 342.9L708.8 345.2L710.4 347.4L712.0 349.6L713.7 351.8L715.3 354.0L716.6 356.4L718.8 358.3L720.3 360.7L721.6 363.1L723.3 365.3L725.2 367.3L726.4 369.9L728.2 371.9L729.4 374.5L731.3 376.5L731.9 379.0L731.6 381.7L731.9 384.2L732.9 386.7L733.0 389.3" fill="none" stroke="#d7dbe9" stroke-width="1.8" stroke-linecap="round" stroke-linejoin="round"/>
<path d="M692.9 360.5L694.2 362.7L695.5 364.8L697.0 366.9L698.0 369.2L699.6 371.1L700.9 373.3L703.1 375.0L704.6 377.2L707.0 378.7L708.2 381.3L710.5 382.9L712.7 385.1L715.5 386.6L717.8 388.7L720.0 390.9" fill="none" stroke="#d7dbe9" stroke-width="1.8" stroke-linecap="round" stroke-linejoin="round"/>
<path d="M716.0 322.0L718.8 319.6L722.0 318.0L725.0 319.9L728.0 322.0" fill="none" stroke="#d7dbe9" stroke-width="1.3" stroke-linecap="round" stroke-linejoin="round"/>
<path d="M742.0 330.0L744.2 331.8L746.0 334.0L748.0 336.0L750.6 336.9L753.4 337.1L756.0 338.0" fill="none" stroke="#d7dbe9" stroke-width="1.3" stroke-linecap="round" stroke-linejoin="round"/>
<path d="M696.0 300.0L697.5 302.3L697.8 305.1L699.0 307.5L700.0 310.0L699.1 312.4L698.6 314.9L698.3 317.5L698.0 320.0" fill="none" stroke="#d7dbe9" stroke-width="1.6" stroke-linecap="round" stroke-linejoin="round"/>
<path d="M688.0 296.0L688.7 298.6L690.4 300.8L691.2 303.4L692.0 306.0L691.5 309.0L691.4 312.1L690.3 315.0L690.0 318.0L689.5 320.7L688.3 323.1L686.8 325.4L686.0 328.0" fill="none" stroke="#d7dbe9" stroke-width="1.5" stroke-linecap="round" stroke-linejoin="round"/>
<path d="M690.0 348.0L691.7 350.3L693.7 352.4L695.0 355.0L696.1 358.1L698.0 360.9L699.0 364.0L699.6 366.6L701.0 368.9L701.5 371.4L702.0 374.0" fill="none" stroke="#d7dbe9" stroke-width="1.7" stroke-linecap="round" stroke-linejoin="round"/>
<path d="M695.0 346.0L696.6 348.7L698.2 351.4L700.0 354.0L701.3 357.0L702.7 360.0L704.0 363.0L705.5 365.9L706.4 369.1L708.0 372.0" fill="none" stroke="#d7dbe9" stroke-width="1.5" stroke-linecap="round" stroke-linejoin="round"/>
<path d="M741.0 368.0L742.0 370.8L743.4 373.5L745.0 376.0L745.1 378.7L744.6 381.4L744.0 384.0" fill="none" stroke="#d7dbe9" stroke-width="1.3" stroke-linecap="round" stroke-linejoin="round"/>
<path d="M756.0 358.0L758.0 361.0L760.0 364.0L759.4 366.7L758.2 369.2L758.0 372.0" fill="none" stroke="#d7dbe9" stroke-width="1.2" stroke-linecap="round" stroke-linejoin="round"/>
<path d="M700.0 296.0L700.7 298.6L701.7 301.1L702.6 303.7L704.0 306.0L704.2 309.0L704.0 312.0L703.4 315.0L703.0 318.0" fill="none" stroke="#d7dbe9" stroke-width="1.4" stroke-linecap="round" stroke-linejoin="round"/>
<path d="M692.0 322.0L693.7 319.7L696.1 318.1L698.0 316.0L699.9 314.2L701.0 311.7L703.0 310.0" fill="none" stroke="#d7dbe9" stroke-width="1.2" stroke-linecap="round" stroke-linejoin="round"/>
<path d="M683.0 322.0L686.1 320.1L689.0 318.0L690.4 315.8L692.7 314.3L694.0 312.0" fill="none" stroke="#d7dbe9" stroke-width="1.2" stroke-linecap="round" stroke-linejoin="round"/>
<path d="M686.0 352.0L687.6 353.9L688.9 356.1L690.1 358.3L692.0 360.0L693.7 362.5L694.5 365.4L696.0 368.0" fill="none" stroke="#d7dbe9" stroke-width="1.4" stroke-linecap="round" stroke-linejoin="round"/>
<path d="M712.0 376.0L714.3 378.1L716.2 380.5L718.0 383.0L720.2 384.4L722.3 386.0L724.0 388.0" fill="none" stroke="#d7dbe9" stroke-width="1.3" stroke-linecap="round" stroke-linejoin="round"/>
<path d="M727.0 338.0L725.7 340.6L724.6 343.2L724.0 346.0L725.3 348.6L726.2 351.3L727.0 354.0" fill="none" stroke="#d7dbe9" stroke-width="1.3" stroke-linecap="round" stroke-linejoin="round"/>
<path d="M745.0 352.0L746.7 349.6L748.0 347.0L751.2 345.8L754.0 344.0" fill="none" stroke="#d7dbe9" stroke-width="1.6" stroke-linecap="round" stroke-linejoin="round"/>
<path d="M766.0 348.0L767.7 350.3L770.0 352.0L770.1 355.0L770.0 358.0" fill="none" stroke="#d7dbe9" stroke-width="1.2" stroke-linecap="round" stroke-linejoin="round"/>
<path d="M687.0 217.7L688.3 218.6L689.6 219.5L691.0 220.3" fill="none" stroke="#d7dbe9" stroke-width="1.3" stroke-linecap="round" stroke-linejoin="round"/>
<path d="M701.8 276.6L702.5 278.0L703.5 279.3" fill="none" stroke="#d7dbe9" stroke-width="1.3" stroke-linecap="round" stroke-linejoin="round"/>
<path d="M670.7 263.0L669.8 261.7L669.2 260.2L669.0 258.7" fill="none" stroke="#d7dbe9" stroke-width="1.0" stroke-linecap="round" stroke-linejoin="round"/>
<path d="M713.2 271.4L714.5 272.3L715.6 273.4" fill="none" stroke="#d7dbe9" stroke-width="1.5" stroke-linecap="round" stroke-linejoin="round"/>
<path d="M662.1 227.0L662.2 228.6L661.9 230.2" fill="none" stroke="#d7dbe9" stroke-width="1.1" stroke-linecap="round" stroke-linejoin="round"/>
<path d="M669.1 264.4L670.2 265.6L671.6 266.4L673.1 266.9" fill="none" stroke="#d7dbe9" stroke-width="1.2" stroke-linecap="round" stroke-linejoin="round"/>
<path d="M713.3 238.5L713.3 240.1L713.5 241.7L714.1 243.2L715.0 244.6" fill="none" stroke="#d7dbe9" stroke-width="0.9" stroke-linecap="round" stroke-linejoin="round"/>
<path d="M723.5 286.6L723.0 285.1L722.9 283.5L723.0 281.9" fill="none" stroke="#d7dbe9" stroke-width="1.3" stroke-linecap="round" stroke-linejoin="round"/>
<path d="M704.3 237.8L704.2 239.4L703.9 240.9" fill="none" stroke="#d7dbe9" stroke-width="1.3" stroke-linecap="round" stroke-linejoin="round"/>
<path d="M689.2 241.2L689.8 239.7L690.3 238.1" fill="none" stroke="#d7dbe9" stroke-width="1.4" stroke-linecap="round" stroke-linejoin="round"/>
<path d="M682.8 291.9L683.6 293.3L684.8 294.4L686.1 295.3" fill="none" stroke="#d7dbe9" stroke-width="0.9" stroke-linecap="round" stroke-linejoin="round"/>
<path d="M671.7 264.3L670.1 264.2L668.5 264.3L667.0 264.6" fill="none" stroke="#d7dbe9" stroke-width="1.3" stroke-linecap="round" stroke-linejoin="round"/>
<path d="M703.5 269.3L703.2 267.7L703.2 266.1L702.8 264.6L702.4 263.0" fill="none" stroke="#d7dbe9" stroke-width="1.5" stroke-linecap="round" stroke-linejoin="round"/>
<path d="M706.5 247.9L706.4 246.3L705.8 244.8L705.3 243.3" fill="none" stroke="#d7dbe9" stroke-width="1.3" stroke-linecap="round" stroke-linejoin="round"/>
<path d="M684.8 265.9L684.8 267.5L684.4 269.1" fill="none" stroke="#d7dbe9" stroke-width="1.3" stroke-linecap="round" stroke-linejoin="round"/>
<path d="M721.0 286.0L722.1 287.2L723.0 288.5" fill="none" stroke="#d7dbe9" stroke-width="1.0" stroke-linecap="round" stroke-linejoin="round"/>
<path d="M696.0 256.6L694.5 256.1L693.0 255.6L691.6 254.7" fill="none" stroke="#d7dbe9" stroke-width="1.4" stroke-linecap="round" stroke-linejoin="round"/>
<path d="M712.5 268.8L713.9 269.4L715.4 269.9" fill="none" stroke="#d7dbe9" stroke-width="1.1" stroke-linecap="round" stroke-linejoin="round"/>
<path d="M671.1 285.8L672.6 286.4L674.0 287.0L675.5 287.8" fill="none" stroke="#d7dbe9" stroke-width="0.9" stroke-linecap="round" stroke-linejoin="round"/>
<path d="M713.3 234.3L714.6 235.2L715.9 236.1L717.1 237.1" fill="none" stroke="#d7dbe9" stroke-width="1.3" stroke-linecap="round" stroke-linejoin="round"/>
<path d="M672.4 212.3L672.9 213.8L673.5 215.3L673.9 216.9" fill="none" stroke="#d7dbe9" stroke-width="1.0" stroke-linecap="round" stroke-linejoin="round"/>
<path d="M687.5 200.1L687.2 201.7L687.0 203.3L686.5 204.8" fill="none" stroke="#d7dbe9" stroke-width="1.0" stroke-linecap="round" stroke-linejoin="round"/>
<path d="M699.8 317.9L700.8 319.1L701.8 320.4L703.2 321.2L704.6 321.9L706.1 322.5L707.7 322.6L709.3 322.5" fill="none" stroke="#d7dbe9" stroke-width="1.6" stroke-linecap="round" stroke-linejoin="round"/>
<path d="M719.2 317.6L719.7 319.1L720.0 320.7L720.4 322.2" fill="none" stroke="#d7dbe9" stroke-width="1.2" stroke-linecap="round" stroke-linejoin="round"/>
<path d="M686.7 305.5L687.0 307.1L687.2 308.6L687.0 310.2L686.8 311.8L686.7 313.4L686.2 314.9L685.6 316.4" fill="none" stroke="#d7dbe9" stroke-width="1.8" stroke-linecap="round" stroke-linejoin="round"/>
<path d="M721.6 365.0L720.1 364.4L718.6 364.0L717.0 363.9L715.4 364.1" fill="none" stroke="#d7dbe9" stroke-width="1.6" stroke-linecap="round" stroke-linejoin="round"/>
<path d="M706.3 332.3L705.3 331.0L704.4 329.7L703.2 328.6L702.2 327.3L701.0 326.3L699.7 325.4L698.7 324.1" fill="none" stroke="#d7dbe9" stroke-width="1.6" stroke-linecap="round" stroke-linejoin="round"/>
<path d="M720.1 363.1L721.0 364.4L722.1 365.6L723.3 366.6L724.7 367.4" fill="none" stroke="#d7dbe9" stroke-width="1.9" stroke-linecap="round" stroke-linejoin="round"/>
<path d="M743.1 326.8L742.4 325.4L741.4 324.1L740.3 323.0L739.2 321.8L738.0 320.8L736.8 319.7L735.9 318.4" fill="none" stroke="#d7dbe9" stroke-width="1.4" stroke-linecap="round" stroke-linejoin="round"/>
<path d="M716.7 304.9L715.7 303.7L714.6 302.5L713.2 301.6L711.8 300.9L710.7 299.8L709.6 298.6" fill="none" stroke="#d7dbe9" stroke-width="1.9" stroke-linecap="round" stroke-linejoin="round"/>
<path d="M731.9 362.8L730.8 361.7L729.6 360.6L728.4 359.5L727.6 358.2L727.0 356.6L726.3 355.2" fill="none" stroke="#d7dbe9" stroke-width="1.5" stroke-linecap="round" stroke-linejoin="round"/>
<path d="M742.7 325.2L743.1 326.8L743.6 328.3L743.7 329.9" fill="none" stroke="#d7dbe9" stroke-width="1.5" stroke-linecap="round" stroke-linejoin="round"/>
<path d="M743.3 377.5L742.6 376.0L741.6 374.8L740.6 373.5L739.3 372.6L738.2 371.5L737.3 370.2L736.0 369.1" fill="none" stroke="#d7dbe9" stroke-width="1.5" stroke-linecap="round" stroke-linejoin="round"/>
<path d="M719.6 322.0L719.2 320.4L718.9 318.8L718.4 317.3L717.8 315.9" fill="none" stroke="#d7dbe9" stroke-width="1.9" stroke-linecap="round" stroke-linejoin="round"/>
<path d="M726.8 338.9L725.8 337.7L724.9 336.3L723.8 335.2L722.5 334.2" fill="none" stroke="#d7dbe9" stroke-width="1.2" stroke-linecap="round" stroke-linejoin="round"/>
<path d="M725.4 318.4L726.1 319.9L726.6 321.4L727.4 322.8" fill="none" stroke="#d7dbe9" stroke-width="1.2" stroke-linecap="round" stroke-linejoin="round"/>
<path d="M747.4 352.0L748.5 353.1L749.8 353.9L751.2 354.7L752.7 355.4L754.1 356.1L755.5 357.0L756.7 358.0" fill="none" stroke="#d7dbe9" stroke-width="1.9" stroke-linecap="round" stroke-linejoin="round"/>
<path d="M687.1 335.5L688.3 336.5L689.6 337.5L690.9 338.4L692.3 339.2" fill="none" stroke="#d7dbe9" stroke-width="1.3" stroke-linecap="round" stroke-linejoin="round"/>
<path d="M746.5 339.4L746.5 341.0L746.1 342.6L745.3 344.0" fill="none" stroke="#d7dbe9" stroke-width="1.8" stroke-linecap="round" stroke-linejoin="round"/>
<path d="M715.0 316.9L714.5 315.4L713.7 314.0L713.3 312.5L712.8 311.0L712.2 309.5" fill="none" stroke="#d7dbe9" stroke-width="1.9" stroke-linecap="round" stroke-linejoin="round"/>
<path d="M731.7 311.2L732.7 312.4L733.5 313.8L734.7 314.9L735.7 316.1L736.8 317.3L737.6 318.7" fill="none" stroke="#d7dbe9" stroke-width="1.2" stroke-linecap="round" stroke-linejoin="round"/>
<path d="M693.4 354.3L693.1 352.7L692.5 351.2L692.1 349.7" fill="none" stroke="#d7dbe9" stroke-width="1.6" stroke-linecap="round" stroke-linejoin="round"/>
<path d="M710.2 353.2L710.8 354.7L711.7 356.0L712.6 357.3L713.4 358.7" fill="none" stroke="#d7dbe9" stroke-width="1.3" stroke-linecap="round" stroke-linejoin="round"/>
<path d="M702.8 369.7L701.9 368.3L700.8 367.2L699.4 366.3L698.0 365.7L696.8 364.6L695.8 363.3L695.2 361.9L694.5 360.4" fill="none" stroke="#d7dbe9" stroke-width="1.2" stroke-linecap="round" stroke-linejoin="round"/>
<path d="M740.0 364.9L741.2 366.1L742.1 367.4L743.1 368.6L744.0 369.9L744.6 371.4L745.4 372.8" fill="none" stroke="#d7dbe9" stroke-width="1.2" stroke-linecap="round" stroke-linejoin="round"/>
<path d="M687.7 350.2L689.0 351.2L690.1 352.3L691.5 353.2L692.8 354.1L693.8 355.3L694.6 356.7" fill="none" stroke="#d7dbe9" stroke-width="1.2" stroke-linecap="round" stroke-linejoin="round"/>
<path d="M710.5 323.1L711.9 323.9L713.1 324.9L714.4 325.9L715.6 326.9L717.1 327.4L718.7 327.6" fill="none" stroke="#d7dbe9" stroke-width="1.8" stroke-linecap="round" stroke-linejoin="round"/>
<path d="M745.1 349.5L745.9 350.8L746.9 352.1L747.6 353.5" fill="none" stroke="#d7dbe9" stroke-width="1.7" stroke-linecap="round" stroke-linejoin="round"/>
<path d="M742.0 384.1L741.1 382.8L740.5 381.3L739.9 379.8" fill="none" stroke="#d7dbe9" stroke-width="1.6" stroke-linecap="round" stroke-linejoin="round"/>
<path d="M738.4 382.4L739.3 383.7L740.0 385.1L740.3 386.7L740.3 388.3" fill="none" stroke="#d7dbe9" stroke-width="1.3" stroke-linecap="round" stroke-linejoin="round"/>
<path d="M736.7 306.6L736.9 308.2L737.0 309.8L737.4 311.3L737.5 312.9" fill="none" stroke="#d7dbe9" stroke-width="1.3" stroke-linecap="round" stroke-linejoin="round"/>
<path d="M681.7 314.9L682.9 316.0L683.9 317.2L685.1 318.3L685.8 319.8L686.5 321.2L686.8 322.8L687.5 324.2" fill="none" stroke="#d7dbe9" stroke-width="1.9" stroke-linecap="round" stroke-linejoin="round"/>
<path d="M699.1 306.6L699.9 308.0L700.7 309.4L701.6 310.7L702.5 312.1" fill="none" stroke="#d7dbe9" stroke-width="1.3" stroke-linecap="round" stroke-linejoin="round"/>
<path d="M746.6 348.8L747.4 350.2L748.5 351.3L749.5 352.6L750.6 353.8L751.8 354.8L752.8 356.0" fill="none" stroke="#d7dbe9" stroke-width="1.7" stroke-linecap="round" stroke-linejoin="round"/>
<path d="M701.6 326.3L700.4 325.3L699.2 324.3L698.2 323.0L697.4 321.6" fill="none" stroke="#d7dbe9" stroke-width="1.8" stroke-linecap="round" stroke-linejoin="round"/>
<path d="M724.3 325.5L723.5 324.1L722.7 322.8L722.0 321.3L721.3 319.9" fill="none" stroke="#d7dbe9" stroke-width="1.5" stroke-linecap="round" stroke-linejoin="round"/>
<path d="M695.4 342.4L696.2 343.7L697.0 345.1L697.7 346.6" fill="none" stroke="#d7dbe9" stroke-width="1.4" stroke-linecap="round" stroke-linejoin="round"/>
<path d="M738.9 369.6L737.9 368.4L736.6 367.4L735.3 366.4L734.3 365.2" fill="none" stroke="#d7dbe9" stroke-width="1.2" stroke-linecap="round" stroke-linejoin="round"/>
<path d="M709.8 357.7L711.1 358.7L712.3 359.7L713.8 360.4L715.1 361.3L716.3 362.4" fill="none" stroke="#d7dbe9" stroke-width="1.2" stroke-linecap="round" stroke-linejoin="round"/>
<path d="M710.6 313.2L711.2 314.7L711.5 316.3L711.8 317.9" fill="none" stroke="#d7dbe9" stroke-width="1.7" stroke-linecap="round" stroke-linejoin="round"/>
<path d="M722.9 389.1L723.3 390.6L723.4 392.2L723.5 393.8L723.2 395.4L722.6 396.9L722.1 398.4" fill="none" stroke="#d7dbe9" stroke-width="1.3" stroke-linecap="round" stroke-linejoin="round"/>
<path d="M697.8 358.5L698.6 359.9L699.7 361.0L701.0 362.0L702.4 362.8L703.9 363.4L705.3 364.1" fill="none" stroke="#d7dbe9" stroke-width="1.2" stroke-linecap="round" stroke-linejoin="round"/>
<path d="M696.7 364.0L696.0 362.5L695.4 361.1L694.4 359.8L693.4 358.5L692.8 357.1" fill="none" stroke="#d7dbe9" stroke-width="1.6" stroke-linecap="round" stroke-linejoin="round"/>
<path d="M730.1 380.0L729.4 378.5L728.9 377.0L728.7 375.4" fill="none" stroke="#d7dbe9" stroke-width="1.9" stroke-linecap="round" stroke-linejoin="round"/>
<path d="M710.2 369.3L711.2 370.5L712.3 371.7L713.7 372.5L715.1 373.1" fill="none" stroke="#d7dbe9" stroke-width="1.6" stroke-linecap="round" stroke-linejoin="round"/>
<path d="M709.1 312.2L707.9 311.2L706.6 310.2L705.3 309.2L703.8 308.7L702.4 307.9L700.8 307.6" fill="none" stroke="#d7dbe9" stroke-width="1.5" stroke-linecap="round" stroke-linejoin="round"/>
<path d="M683.6 333.2L682.4 332.1L681.4 330.8L680.7 329.4L679.8 328.1L678.5 327.1L677.0 326.5" fill="none" stroke="#d7dbe9" stroke-width="1.5" stroke-linecap="round" stroke-linejoin="round"/>
<path d="M726.8 372.6L727.8 373.8L729.1 374.8L730.5 375.4L732.1 375.7L733.6 376.1L735.2 376.6L736.7 376.9" fill="none" stroke="#d7dbe9" stroke-width="1.7" stroke-linecap="round" stroke-linejoin="round"/>
<path d="M735.2 312.4L735.7 314.0L735.6 315.6L736.0 317.1" fill="none" stroke="#d7dbe9" stroke-width="1.1" stroke-linecap="round" stroke-linejoin="round"/>
<path d="M702.5 362.4L701.7 361.0L701.1 359.5L700.6 358.0L699.8 356.6L699.2 355.1L698.9 353.5" fill="none" stroke="#d7dbe9" stroke-width="1.6" stroke-linecap="round" stroke-linejoin="round"/>
<path d="M736.3 330.0L735.3 328.8L734.6 327.4L734.1 325.9L733.3 324.5L732.9 322.9" fill="none" stroke="#d7dbe9" stroke-width="1.6" stroke-linecap="round" stroke-linejoin="round"/>
<path d="M739.7 365.3L740.8 366.5L741.6 367.8L742.4 369.2L743.2 370.6L744.1 371.9L744.8 373.4L745.7 374.7" fill="none" stroke="#d7dbe9" stroke-width="1.8" stroke-linecap="round" stroke-linejoin="round"/>
<path d="M713.5 355.8L712.3 354.7L710.9 353.9L709.7 352.8L708.4 351.9L707.4 350.7L706.5 349.3L705.5 348.1" fill="none" stroke="#d7dbe9" stroke-width="1.1" stroke-linecap="round" stroke-linejoin="round"/>
<path d="M731.8 343.9L732.4 345.4L732.8 346.9L733.5 348.4L734.4 349.7L735.2 351.1L736.1 352.3" fill="none" stroke="#d7dbe9" stroke-width="1.6" stroke-linecap="round" stroke-linejoin="round"/>
<path d="M714.1 348.0L714.8 349.4L715.8 350.7L716.9 351.9L718.3 352.7" fill="none" stroke="#d7dbe9" stroke-width="1.3" stroke-linecap="round" stroke-linejoin="round"/>
<path d="M688.6 348.5L688.0 347.0L687.6 345.5L687.7 343.9L687.8 342.3" fill="none" stroke="#d7dbe9" stroke-width="1.3" stroke-linecap="round" stroke-linejoin="round"/>
<path d="M687.2 315.0L686.2 313.8L685.0 312.8L684.1 311.4" fill="none" stroke="#d7dbe9" stroke-width="1.5" stroke-linecap="round" stroke-linejoin="round"/>
<path d="M730.2 308.4L729.8 306.8L729.4 305.3L728.9 303.8L728.1 302.4L727.0 301.2L726.2 299.8L725.4 298.5" fill="none" stroke="#d7dbe9" stroke-width="1.8" stroke-linecap="round" stroke-linejoin="round"/>
<path d="M708.9 303.3L708.2 301.8L707.3 300.4L707.0 298.9" fill="none" stroke="#d7dbe9" stroke-width="1.2" stroke-linecap="round" stroke-linejoin="round"/>
<path d="M735.0 355.4L734.4 353.9L733.8 352.5L733.5 350.9L733.6 349.3L733.6 347.7" fill="none" stroke="#d7dbe9" stroke-width="1.6" stroke-linecap="round" stroke-linejoin="round"/>
<path d="M723.9 368.5L723.7 366.9L723.1 365.4L722.2 364.1L721.1 363.0" fill="none" stroke="#d7dbe9" stroke-width="1.1" stroke-linecap="round" stroke-linejoin="round"/>
<path d="M712.4 354.2L711.6 352.9L710.7 351.5L709.9 350.1L709.6 348.6L709.5 347.0L709.5 345.4" fill="none" stroke="#d7dbe9" stroke-width="1.6" stroke-linecap="round" stroke-linejoin="round"/>
<path d="M712.0 196.0L743.0 218.5L729.0 249.5L733.0 270.0L740.5 288.0L737.0 299.0L731.0 290.0L728.0 268.0L724.0 246.0L714.0 228.0Z" fill="#17371f"/>
<path d="M772.0 340.0L781.0 351.5L795.1 353.5L795.1 370.6L768.0 371.4L757.2 378.0L750.0 382.8L746.0 390.0L738.0 393.0L741.0 380.0L752.0 374.0L756.0 366.0L770.0 362.0Z" fill="#17371f"/>
<path d="M736.1 300.4L739.0 296.0L740.7 294.6L742.5 293.2L745.1 292.5L747.3 291.1L749.6 289.8L752.1 289.0L754.4 288.1L756.3 286.4L758.6 285.5L761.3 285.3L763.3 283.8L766.0 284.9L768.9 285.1L769.1 287.6L768.9 290.1L770.0 292.4L770.5 294.8L770.0 297.5L771.5 300.1L771.3 302.8L769.7 305.2L768.1 307.6L768.9 310.3L769.7 312.9L770.5 315.6L770.2 318.3L769.7 321.0L763.3 320.4L758.5 323.6L758.5 330.8L752.1 328.4L747.3 326.8L748.1 322.0L736.1 321.2Z" fill="#8cb921"/>
<path d="M757.2 378.0L768.0 371.4L787.3 370.2L795.1 370.8L801.7 375.6L804.1 382.8L805.9 390.0L802.9 393.6L801.6 395.0L799.8 395.8L797.8 396.5L796.9 398.4L794.8 398.8L793.6 400.3L792.5 401.9L791.3 403.4L789.7 404.4L788.0 405.3L787.4 407.5L785.7 408.3L783.7 408.9L782.5 410.4L780.8 411.3L779.2 412.4L778.2 414.3L776.5 415.3L772.9 420.0L772.9 427.3L774.0 430.9L768.0 429.7L766.3 428.5L764.7 427.2L762.9 426.2L761.6 424.5L759.6 423.7L758.4 422.2L757.2 420.9L755.4 420.1L753.7 419.2L752.7 417.6L751.2 416.5L749.5 415.3L748.1 413.8L747.0 412.0L745.1 411.0L744.0 409.2L742.6 407.4L740.2 407.1L738.3 406.0L736.8 404.4L735.2 403.0L733.3 402.4L732.0 400.5L729.6 400.8L731.3 399.9L732.9 398.7L734.0 397.1L735.6 396.0L737.8 395.8L739.7 394.5L741.9 394.1L744.0 393.6L748.8 387.6L750.0 381.6Z" fill="#b5c032"/>
<path d="M758.4 382.2L760.4 383.2L762.3 382.4L764.3 382.9L766.1 381.9L768.0 381.4L770.0 381.6L771.9 380.9L773.8 380.7L775.8 381.5L777.7 380.8L779.6 381.3L781.5 381.8L783.4 381.6L785.4 381.0L787.3 381.4L789.1 381.7L790.9 381.7L792.7 381.9L794.5 382.1L796.3 382.4L798.1 382.2L799.3 384.6L797.5 385.1L795.4 384.4L794.0 386.3L792.1 386.4L790.1 386.1L788.1 386.4L786.1 385.2L784.1 385.1L782.0 385.9L780.0 385.8L778.2 386.3L776.4 387.0L774.5 387.2L772.9 388.2L771.4 389.4L769.8 390.2L768.0 390.6L766.4 389.1L764.4 388.2L762.9 386.9L761.4 385.5L759.6 384.6Z" fill="#dde1e6"/>
<path d="M764.0 389.0L762.3 391.0L760.2 392.6L758.0 394.0L754.9 395.8L752.0 398.0L749.8 399.3L747.2 399.7L745.0 401.0" fill="none" stroke="#dde4bf" stroke-width="1.1" stroke-linecap="round" stroke-linejoin="round"/>
<path d="M770.0 390.0L769.8 392.8L768.8 395.4L768.0 398.0L769.8 400.4L770.9 403.2L772.0 406.0" fill="none" stroke="#dde4bf" stroke-width="1.0" stroke-linecap="round" stroke-linejoin="round"/>
<path d="M752.0 398.0L753.1 400.8L754.5 403.4L756.0 406.0L758.1 407.9L760.2 409.8L762.0 412.0" fill="none" stroke="#dde4bf" stroke-width="1.0" stroke-linecap="round" stroke-linejoin="round"/>
<path d="M740.0 398.0L742.5 396.3L745.5 395.6L748.0 394.0" fill="none" stroke="#dde4bf" stroke-width="1.0" stroke-linecap="round" stroke-linejoin="round"/>
<path d="M760.0 376.0L758.8 378.7L757.7 381.5L756.0 384.0" fill="none" stroke="#dde4bf" stroke-width="0.9" stroke-linecap="round" stroke-linejoin="round"/>
<path d="M772.0 406.0L774.1 409.0L776.0 412.0" fill="none" stroke="#dde4bf" stroke-width="1.0" stroke-linecap="round" stroke-linejoin="round"/>
<path d="M745.0 401.0L741.6 402.0L738.0 402.0" fill="none" stroke="#dde4bf" stroke-width="1.0" stroke-linecap="round" stroke-linejoin="round"/>
<path d="M756.0 406.0L753.0 408.0L750.0 410.0" fill="none" stroke="#dde4bf" stroke-width="0.9" stroke-linecap="round" stroke-linejoin="round"/>
<path d="M745.2 403.4L744.0 404.5L743.2 405.9L742.5 407.3" fill="none" stroke="#d3da8c" stroke-width="0.7" stroke-linecap="round" stroke-linejoin="round"/>
<path d="M784.3 402.2L784.5 403.8L785.1 405.3L785.7 406.8" fill="none" stroke="#d3da8c" stroke-width="0.8" stroke-linecap="round" stroke-linejoin="round"/>
<path d="M768.4 408.2L769.3 406.8L770.5 405.7" fill="none" stroke="#d3da8c" stroke-width="0.7" stroke-linecap="round" stroke-linejoin="round"/>
<path d="M773.4 423.2L774.8 422.3L776.3 421.9L777.8 421.2" fill="none" stroke="#d3da8c" stroke-width="0.8" stroke-linecap="round" stroke-linejoin="round"/>
<path d="M780.9 391.0L779.4 391.6L778.0 392.3" fill="none" stroke="#d3da8c" stroke-width="0.7" stroke-linecap="round" stroke-linejoin="round"/>
<path d="M771.3 388.8L770.4 390.0L769.8 391.5L768.8 392.8L767.8 394.0" fill="none" stroke="#d3da8c" stroke-width="0.6" stroke-linecap="round" stroke-linejoin="round"/>
<path d="M778.5 390.5L779.9 389.6L781.0 388.5L781.6 387.0" fill="none" stroke="#d3da8c" stroke-width="1.0" stroke-linecap="round" stroke-linejoin="round"/>
<path d="M798.5 389.2L797.0 389.8L795.6 390.6L794.1 391.2L792.6 391.7" fill="none" stroke="#d3da8c" stroke-width="1.0" stroke-linecap="round" stroke-linejoin="round"/>
<path d="M790.9 400.2L792.3 399.6L793.8 398.9" fill="none" stroke="#d3da8c" stroke-width="0.9" stroke-linecap="round" stroke-linejoin="round"/>
<path d="M772.8 394.9L772.0 396.3L771.4 397.8" fill="none" stroke="#d3da8c" stroke-width="0.7" stroke-linecap="round" stroke-linejoin="round"/>
<path d="M748.0 393.1L747.6 394.6L747.5 396.2" fill="none" stroke="#d3da8c" stroke-width="0.6" stroke-linecap="round" stroke-linejoin="round"/>
<path d="M770.9 409.8L769.8 410.8L768.5 411.9L767.5 413.1L766.7 414.5" fill="none" stroke="#d3da8c" stroke-width="0.9" stroke-linecap="round" stroke-linejoin="round"/>
<path d="M780.8 389.2L781.4 387.8L782.0 386.3" fill="none" stroke="#d3da8c" stroke-width="0.7" stroke-linecap="round" stroke-linejoin="round"/>
<path d="M752.7 389.6L752.1 391.1L751.8 392.7" fill="none" stroke="#d3da8c" stroke-width="0.9" stroke-linecap="round" stroke-linejoin="round"/>
<path d="M753.5 411.2L754.1 412.7L754.5 414.2" fill="none" stroke="#d3da8c" stroke-width="0.8" stroke-linecap="round" stroke-linejoin="round"/>
<path d="M777.0 396.0L778.1 394.9L779.5 394.1L781.0 393.5" fill="none" stroke="#d3da8c" stroke-width="0.8" stroke-linecap="round" stroke-linejoin="round"/>
<path d="M795.1 353.1L816.9 352.6L816.9 387.2L809.5 388.4L805.9 390.0L804.1 382.8L801.7 375.6L795.1 370.6Z" fill="#6da927"/>
<path d="M816.9 352.4L846.7 352.3L869.4 359.0L866.0 361.5L862.8 364.4L860.5 369.0L859.4 373.7L853.4 376.4L850.7 377.0L844.0 380.4L834.7 384.4L826.7 386.4L822.0 389.1L816.9 387.7Z" fill="#2aa93c"/>
<path d="M868 358.600L875 360.300L882 362.600L887 365.500L893.500 368.400" fill="none" stroke="#3fae4c" stroke-width="1"/>
<path d="M859.4 373.7L864.1 373.7L866.0 377.5L868.1 381.0L872.8 385.0L880.1 382.4L884.1 378.4L887.5 382.4L888.2 401.0L874.8 402.4L862.8 403.7L858.7 401.7L844.0 401.7L841.4 403.7L842.7 398.4L837.4 395.7L835.4 391.2L838.7 389.0L842.7 390.4L846.7 393.0L853.4 389.0L857.4 383.7L858.6 378.5Z" fill="#2aa93c"/>
<path d="M833.4 402.4L841.4 403.7L844.0 401.7L858.7 401.7L862.8 403.7L874.8 402.4L888.2 401.0L888.2 440.5L880.1 438.5L874.8 434.5L869.4 433.1L862.8 435.8L858.7 432.5L865.4 427.8L866.8 422.4L862.8 419.8L853.4 421.1L844.0 423.8L838.7 425.1L833.4 419.8L832.0 411.8Z" fill="#1b5e2d"/>
<path d="M841.4 440.5L853.4 435.8L858.7 432.5L862.8 435.8L869.4 433.1L874.8 434.5L880.1 438.5L888.2 440.5L888.2 482.6L883.6 482.3L877.3 480.5L873.7 485.9L866.5 487.7L861.1 484.1L852.0 482.3L843.0 482.3L834.0 484.0L825.0 482.3L818.7 475.0L820.5 466.0L823.2 460.6L831.0 463.5L839.5 466.0L843.0 464.2L843.0 455.2L841.8 448.0Z" fill="#40ae38"/>
<path d="M843.0 462.0L846.5 463.3L850.0 464.5L852.7 465.4L855.5 466.0L858.0 467.5L860.9 468.4L863.6 469.8L866.5 470.5L869.5 471.4L872.5 472.6L875.5 473.5" fill="none" stroke="#cfe6c3" stroke-width="1.7" stroke-linecap="round" stroke-linejoin="round"/>
<path d="M866.5 470.5L865.3 473.3L864.0 476.0L862.2 478.3L861.0 481.0" fill="none" stroke="#cfe6c3" stroke-width="1.1" stroke-linecap="round" stroke-linejoin="round"/>
<path d="M858.0 467.5L856.1 470.6L855.0 474.0L853.5 477.0L852.0 480.0" fill="none" stroke="#cfe6c3" stroke-width="1.0" stroke-linecap="round" stroke-linejoin="round"/>
<path d="M850.0 464.5L849.1 466.9L846.9 468.6L846.0 471.0L845.3 474.6L844.0 478.0" fill="none" stroke="#cfe6c3" stroke-width="1.0" stroke-linecap="round" stroke-linejoin="round"/>
<path d="M829.0 464.0L828.7 466.8L827.7 469.4L827.0 472.0L825.7 474.2L825.0 476.7L824.0 479.0" fill="none" stroke="#cfe6c3" stroke-width="1.0" stroke-linecap="round" stroke-linejoin="round"/>
<path d="M835.0 466.0L835.6 468.6L835.6 471.3L836.0 474.0" fill="none" stroke="#cfe6c3" stroke-width="0.9" stroke-linecap="round" stroke-linejoin="round"/>
<path d="M875.5 473.5L874.1 475.7L872.5 477.8L871.0 480.0L869.8 482.7L868.0 485.0" fill="none" stroke="#cfe6c3" stroke-width="1.1" stroke-linecap="round" stroke-linejoin="round"/>
<path d="M840.0 468.0L839.9 470.5L840.2 473.0L839.8 475.5L840.0 478.0" fill="none" stroke="#cfe6c3" stroke-width="0.9" stroke-linecap="round" stroke-linejoin="round"/>
<path d="M822.0 468.0L824.2 469.8L825.7 472.3L828.1 473.9L830.0 476.0L832.5 477.9L835.5 479.1L838.0 481.0" fill="none" stroke="#cfe6c3" stroke-width="0.9" stroke-linecap="round" stroke-linejoin="round"/>
<path d="M809.3 387.7L815.4 389.1L821.4 388.4L823.4 391.7L820.0 395.7L821.0 403.7L818.7 411.8L817.6 425.1L818.2 436.9L813.7 444.1L811.3 444.5L809.0 445.6L806.5 445.3L804.7 444.1L802.8 443.0L800.5 442.8L798.7 441.8L796.9 440.5L795.0 439.8L793.2 438.7L791.1 438.4L789.1 438.0L787.3 436.9L785.9 434.9L783.6 434.3L782.1 432.4L779.6 432.1L777.7 430.9L772.9 424.9L773.5 418.9L778.9 415.9L785.5 416.5L792.1 414.0L799.3 409.2L806.5 403.2L811.3 396.0Z" fill="#0e2014"/>
<path d="M782.3 419.5A3.500 3.500 0 1 0 781.5 423.7" fill="none" stroke="#d7dbe9" stroke-width="1.2"/>
<path d="M793.3 415.3L793.5 418.2L794.2 421.0L793.8 423.5L793.0 426.0L790.3 428.4L787.3 430.3" fill="none" stroke="#d7dbe9" stroke-width="1.2" stroke-linecap="round" stroke-linejoin="round"/>
<path d="M822.900 396.200L826.500 394" stroke="#0e2014" stroke-width="1.5" stroke-linecap="round"/>
<path d="M828.1 431.5L828.8 433.4L829.9 435.1L830.9 436.8L831.7 438.7L831.6 440.6L833.0 442.2L833.4 444.0L834.0 445.8L834.2 447.6L833.6 449.7L835.2 451.2L835.3 453.1L836.2 454.7L836.5 456.6L838.0 457.9L838.0 459.8L839.3 461.2L839.8 463.0L837.3 463.9L835.3 465.7L833.8 464.4L831.7 463.9L830.3 462.4L828.7 461.3L826.8 460.6L826.0 458.9L825.1 457.4L823.5 456.3L822.1 455.1L821.4 453.4L821.4 451.4L821.9 449.4L822.5 447.3L821.4 445.3L822.9 443.9L824.8 443.1L826.8 442.6L827.5 440.5L826.6 438.3L827.2 436.2L827.0 434.0Z" fill="#0e2014"/>
<path d="M826.0 447.0L827.8 449.7L830.0 452.0L831.4 454.9L832.0 458.0" fill="none" stroke="#d7dbe9" stroke-width="0.9" stroke-linecap="round" stroke-linejoin="round"/>
<path d="M702.0 395.5L703.8 395.4L704.6 397.2L706.5 396.9L707.2 399.0L709.0 399.0L710.2 399.8L712.1 399.5L712.3 401.8L712.8 403.7L714.1 404.4L715.5 404.9L717.4 404.6L718.4 406.1L720.7 404.7L721.6 406.4L722.5 408.1L724.8 406.8L726.2 407.3L727.2 408.8L728.6 409.2L730.1 409.4L730.7 412.1L732.0 413.0L733.6 412.9L735.2 412.9L737.0 412.3L738.1 413.6L739.7 413.9L741.6 413.5L742.6 415.1L742.3 417.6L744.0 417.8L745.9 417.8L746.9 418.9L747.0 420.9L746.9 423.1L749.6 422.3L751.0 422.8L752.4 423.4L753.8 424.0L755.5 423.8L756.5 425.2L758.0 425.6L758.3 428.0L760.7 426.7L761.9 427.4L762.4 429.5L764.7 428.1L765.1 430.4L766.4 430.9L767.9 431.2L768.9 432.7L770.8 432.0L771.7 433.9L773.5 433.3L774.1 434.9L775.5 435.6L775.8 437.7L778.9 435.6L779.1 438.0L779.5 439.9L781.9 439.0L783.7 439.1L784.0 441.2L786.2 440.8L786.1 443.4L787.5 444.0L789.5 443.9L790.3 445.3L791.7 445.9L792.0 449.2L794.2 447.9L795.5 448.5L797.4 448.0L798.7 448.8L800.6 448.1L801.6 449.8L802.3 452.1L804.1 451.6L806.2 450.6L807.1 452.3L808.3 453.3L810.0 453.4L811.4 454.2L811.6 457.4L813.0 458.1L815.5 456.5L817.3 457.3L817.7 458.9L816.7 461.1L818.3 462.1L818.0 463.5L817.8 464.9L815.5 466.0L817.7 467.8L816.8 469.0L816.9 470.5L815.6 469.7L814.2 469.2L812.4 470.9L811.1 470.5L809.9 469.1L808.2 469.4L806.9 468.8L806.1 466.6L804.2 467.6L802.4 468.2L801.5 466.3L800.1 466.8L797.8 464.6L797.2 467.5L795.7 467.6L794.7 469.1L793.1 469.1L791.9 470.0L791.5 471.9L788.8 470.9L788.7 473.2L785.7 471.9L786.1 474.7L784.9 476.1L783.2 474.6L781.8 474.8L780.4 475.5L779.1 476.1L778.0 475.2L777.2 473.9L775.0 474.5L774.2 473.3L773.5 471.9L774.3 470.5L773.8 469.1L773.2 467.7L773.8 466.3L773.5 464.9L771.6 465.2L770.7 463.5L769.8 461.9L768.0 461.8L766.7 461.0L765.1 460.7L763.9 459.7L762.1 460.4L760.8 459.6L759.8 458.0L759.1 455.5L756.7 457.9L755.4 458.9L753.8 457.7L752.4 458.3L751.2 459.3L749.6 458.4L748.3 459.3L747.0 458.1L748.8 456.2L746.8 455.2L746.9 453.7L746.8 452.0L749.1 451.3L748.0 449.3L748.3 447.8L749.7 446.7L748.3 445.6L747.8 444.1L748.6 441.9L746.9 441.0L745.5 441.0L744.2 439.3L742.6 440.9L741.1 441.1L739.7 441.3L738.6 438.8L737.0 439.7L735.7 438.3L735.8 436.9L738.3 435.4L737.0 434.0L735.3 435.0L733.9 435.0L732.8 433.3L731.6 432.1L730.0 432.6L730.8 431.2L730.2 429.8L729.2 428.4L730.0 427.0L729.6 425.5L729.3 423.8L728.9 422.3L726.1 422.0L725.5 420.5L726.4 418.3L726.8 416.3L724.4 415.8L723.2 414.6L721.7 414.7L720.4 413.8L718.6 414.8L717.3 414.3L716.7 411.1L714.6 413.0L713.2 411.9L715.0 409.9L714.9 408.5L713.2 407.4L711.3 407.4L711.2 405.2L711.0 402.9L709.2 402.8L707.2 402.9L706.2 401.8L705.6 400.3L703.3 400.5L704.3 397.4L702.0 397.6Z" fill="#0e2014"/>
<path d="M704.3 395.7L702.9 396.2L701.5 396.4L700.0 396.7" fill="none" stroke="#d7dbe9" stroke-width="1.4" stroke-linecap="round" stroke-linejoin="round"/>
<path d="M708.8 397.8L708.9 399.2L709.0 400.7" fill="none" stroke="#d7dbe9" stroke-width="1.6" stroke-linecap="round" stroke-linejoin="round"/>
<path d="M714.0 401.1L714.4 402.6L714.7 404.0" fill="none" stroke="#d7dbe9" stroke-width="1.5" stroke-linecap="round" stroke-linejoin="round"/>
<path d="M717.2 403.1L716.8 404.5L716.0 405.8L715.4 407.2" fill="none" stroke="#d7dbe9" stroke-width="1.2" stroke-linecap="round" stroke-linejoin="round"/>
<path d="M715.1 401.7L714.5 403.1L713.8 404.4" fill="none" stroke="#d7dbe9" stroke-width="1.5" stroke-linecap="round" stroke-linejoin="round"/>
<path d="M727.4 407.9L726.1 408.6L724.7 409.3L723.2 409.5L721.8 409.9" fill="none" stroke="#d7dbe9" stroke-width="1.3" stroke-linecap="round" stroke-linejoin="round"/>
<path d="M721.2 404.9L720.4 406.2L719.5 407.4L719.0 408.8" fill="none" stroke="#d7dbe9" stroke-width="1.0" stroke-linecap="round" stroke-linejoin="round"/>
<path d="M729.0 408.2L728.1 409.4L727.4 410.7" fill="none" stroke="#d7dbe9" stroke-width="1.5" stroke-linecap="round" stroke-linejoin="round"/>
<path d="M733.6 409.9L733.1 411.3L732.3 412.5L731.0 413.4L729.6 413.9" fill="none" stroke="#d7dbe9" stroke-width="1.5" stroke-linecap="round" stroke-linejoin="round"/>
<path d="M730.8 409.1L730.8 410.6L731.2 412.1L731.6 413.5L732.3 414.8" fill="none" stroke="#d7dbe9" stroke-width="1.6" stroke-linecap="round" stroke-linejoin="round"/>
<path d="M737.6 411.3L737.1 412.7L737.1 414.2L737.5 415.6L737.7 417.1" fill="none" stroke="#d7dbe9" stroke-width="1.1" stroke-linecap="round" stroke-linejoin="round"/>
<path d="M740.6 412.8L740.0 414.2L739.3 415.5" fill="none" stroke="#d7dbe9" stroke-width="1.5" stroke-linecap="round" stroke-linejoin="round"/>
<path d="M751.5 421.7L750.2 422.4L749.0 423.2L747.7 424.1" fill="none" stroke="#d7dbe9" stroke-width="1.1" stroke-linecap="round" stroke-linejoin="round"/>
<path d="M749.2 419.5L748.2 420.7L747.3 421.9L746.4 423.1" fill="none" stroke="#d7dbe9" stroke-width="1.0" stroke-linecap="round" stroke-linejoin="round"/>
<path d="M748.9 419.7L748.7 421.2L748.6 422.7" fill="none" stroke="#d7dbe9" stroke-width="1.1" stroke-linecap="round" stroke-linejoin="round"/>
<path d="M751.4 421.6L750.7 422.9L749.8 424.2L748.9 425.3" fill="none" stroke="#d7dbe9" stroke-width="1.7" stroke-linecap="round" stroke-linejoin="round"/>
<path d="M758.0 424.4L756.8 425.3L755.6 426.1L754.2 426.7L752.7 427.1" fill="none" stroke="#d7dbe9" stroke-width="1.0" stroke-linecap="round" stroke-linejoin="round"/>
<path d="M753.9 422.8L754.3 424.2L754.4 425.7L754.7 427.2" fill="none" stroke="#d7dbe9" stroke-width="1.7" stroke-linecap="round" stroke-linejoin="round"/>
<path d="M767.8 429.8L767.9 431.3L767.9 432.8L768.0 434.3L767.8 435.8" fill="none" stroke="#d7dbe9" stroke-width="1.6" stroke-linecap="round" stroke-linejoin="round"/>
<path d="M759.8 425.2L759.3 426.7L758.7 428.0L758.1 429.4" fill="none" stroke="#d7dbe9" stroke-width="1.8" stroke-linecap="round" stroke-linejoin="round"/>
<path d="M759.6 425.4L758.1 425.4L756.6 425.7L755.1 425.9" fill="none" stroke="#d7dbe9" stroke-width="1.6" stroke-linecap="round" stroke-linejoin="round"/>
<path d="M762.3 426.7L761.9 428.2L761.5 429.6L760.7 430.9" fill="none" stroke="#d7dbe9" stroke-width="1.2" stroke-linecap="round" stroke-linejoin="round"/>
<path d="M768.0 430.0L768.3 431.5L768.6 433.0L769.3 434.3" fill="none" stroke="#d7dbe9" stroke-width="1.6" stroke-linecap="round" stroke-linejoin="round"/>
<path d="M771.2 431.3L771.8 432.7L772.7 433.9" fill="none" stroke="#d7dbe9" stroke-width="1.7" stroke-linecap="round" stroke-linejoin="round"/>
<path d="M781.2 437.1L780.4 438.4L779.5 439.6L778.5 440.7" fill="none" stroke="#d7dbe9" stroke-width="1.0" stroke-linecap="round" stroke-linejoin="round"/>
<path d="M778.7 435.4L778.0 436.8L777.0 437.9L776.4 439.3" fill="none" stroke="#d7dbe9" stroke-width="1.2" stroke-linecap="round" stroke-linejoin="round"/>
<path d="M779.4 435.9L778.4 437.0L777.2 437.8" fill="none" stroke="#d7dbe9" stroke-width="1.3" stroke-linecap="round" stroke-linejoin="round"/>
<path d="M784.9 439.8L783.5 440.4L782.3 441.3L781.3 442.4" fill="none" stroke="#d7dbe9" stroke-width="1.8" stroke-linecap="round" stroke-linejoin="round"/>
<path d="M782.7 438.3L782.4 439.8L782.4 441.3" fill="none" stroke="#d7dbe9" stroke-width="1.1" stroke-linecap="round" stroke-linejoin="round"/>
<path d="M797.8 447.2L797.0 448.5L796.6 449.9L796.5 451.4" fill="none" stroke="#d7dbe9" stroke-width="1.7" stroke-linecap="round" stroke-linejoin="round"/>
<path d="M791.3 444.5L790.2 445.6L789.0 446.4L787.8 447.3L786.7 448.3" fill="none" stroke="#d7dbe9" stroke-width="1.3" stroke-linecap="round" stroke-linejoin="round"/>
<path d="M793.5 445.4L793.7 446.9L793.9 448.4" fill="none" stroke="#d7dbe9" stroke-width="1.7" stroke-linecap="round" stroke-linejoin="round"/>
<path d="M794.9 445.9L794.3 447.3L793.5 448.6" fill="none" stroke="#d7dbe9" stroke-width="1.3" stroke-linecap="round" stroke-linejoin="round"/>
<path d="M806.0 450.6L805.4 451.9L804.8 453.3" fill="none" stroke="#d7dbe9" stroke-width="1.1" stroke-linecap="round" stroke-linejoin="round"/>
<path d="M804.6 450.0L803.8 451.2L803.3 452.7L802.5 453.9" fill="none" stroke="#d7dbe9" stroke-width="1.5" stroke-linecap="round" stroke-linejoin="round"/>
<path d="M803.8 449.7L802.7 450.7L801.9 451.9L801.2 453.3" fill="none" stroke="#d7dbe9" stroke-width="1.6" stroke-linecap="round" stroke-linejoin="round"/>
<path d="M803.3 449.5L803.5 450.9L803.8 452.4L804.6 453.7L805.7 454.7" fill="none" stroke="#d7dbe9" stroke-width="1.3" stroke-linecap="round" stroke-linejoin="round"/>
<path d="M809.2 452.0L808.1 453.1L807.5 454.4L807.3 455.9L806.8 457.3" fill="none" stroke="#d7dbe9" stroke-width="1.2" stroke-linecap="round" stroke-linejoin="round"/>
<path d="M813.7 454.6L812.2 454.8L810.8 455.4L809.6 456.2" fill="none" stroke="#d7dbe9" stroke-width="1.3" stroke-linecap="round" stroke-linejoin="round"/>
<path d="M811.8 453.4L811.6 454.9L811.5 456.4" fill="none" stroke="#d7dbe9" stroke-width="1.7" stroke-linecap="round" stroke-linejoin="round"/>
<path d="M811.0 453.0L810.6 454.5L810.6 456.0L810.8 457.4L810.8 458.9" fill="none" stroke="#d7dbe9" stroke-width="1.2" stroke-linecap="round" stroke-linejoin="round"/>
<path d="M816.5 456.3L816.1 457.7L815.4 459.1L815.0 460.5L814.6 461.9" fill="none" stroke="#d7dbe9" stroke-width="1.4" stroke-linecap="round" stroke-linejoin="round"/>
<path d="M818.2 469.6L816.9 470.4L815.8 471.5L814.6 472.3" fill="none" stroke="#d7dbe9" stroke-width="1.2" stroke-linecap="round" stroke-linejoin="round"/>
<path d="M818.7 466.6L817.4 467.3L816.2 468.2" fill="none" stroke="#d7dbe9" stroke-width="1.7" stroke-linecap="round" stroke-linejoin="round"/>
<path d="M817.8 470.8L817.0 469.6L816.1 468.4" fill="none" stroke="#d7dbe9" stroke-width="1.3" stroke-linecap="round" stroke-linejoin="round"/>
<path d="M816.6 471.7L817.4 470.4L818.4 469.3L819.5 468.2L820.3 467.0" fill="none" stroke="#d7dbe9" stroke-width="1.8" stroke-linecap="round" stroke-linejoin="round"/>
<path d="M801.6 467.6L801.4 466.1L801.0 464.7L800.3 463.3L799.2 462.2" fill="none" stroke="#d7dbe9" stroke-width="1.6" stroke-linecap="round" stroke-linejoin="round"/>
<path d="M804.6 468.6L804.9 467.1L805.0 465.6L805.1 464.1" fill="none" stroke="#d7dbe9" stroke-width="1.0" stroke-linecap="round" stroke-linejoin="round"/>
<path d="M809.9 470.2L809.1 468.9L808.1 467.7L807.1 466.7L806.5 465.3" fill="none" stroke="#d7dbe9" stroke-width="1.7" stroke-linecap="round" stroke-linejoin="round"/>
<path d="M800.1 468.0L799.1 466.9L798.0 465.9L797.2 464.6L796.1 463.5" fill="none" stroke="#d7dbe9" stroke-width="1.1" stroke-linecap="round" stroke-linejoin="round"/>
<path d="M799.3 468.3L798.7 466.9L798.6 465.4L798.1 464.0" fill="none" stroke="#d7dbe9" stroke-width="1.1" stroke-linecap="round" stroke-linejoin="round"/>
<path d="M801.8 467.3L801.0 466.0L800.1 464.8L799.7 463.3L799.0 462.0" fill="none" stroke="#d7dbe9" stroke-width="1.5" stroke-linecap="round" stroke-linejoin="round"/>
<path d="M789.8 473.2L788.4 472.6L787.2 471.7" fill="none" stroke="#d7dbe9" stroke-width="1.6" stroke-linecap="round" stroke-linejoin="round"/>
<path d="M788.9 473.6L787.5 473.2L786.1 472.6L784.6 472.3L783.3 471.5" fill="none" stroke="#d7dbe9" stroke-width="1.2" stroke-linecap="round" stroke-linejoin="round"/>
<path d="M786.8 475.7L786.2 474.3L786.0 472.8L785.8 471.3L785.2 469.9" fill="none" stroke="#d7dbe9" stroke-width="1.4" stroke-linecap="round" stroke-linejoin="round"/>
<path d="M784.6 475.9L785.6 474.8L786.7 473.8L787.7 472.7" fill="none" stroke="#d7dbe9" stroke-width="1.3" stroke-linecap="round" stroke-linejoin="round"/>
<path d="M786.4 475.7L785.3 474.7L784.4 473.5L783.8 472.2" fill="none" stroke="#d7dbe9" stroke-width="1.4" stroke-linecap="round" stroke-linejoin="round"/>
<path d="M777.0 476.0L777.9 474.8L778.9 473.7L780.0 472.6L781.3 471.9" fill="none" stroke="#d7dbe9" stroke-width="1.5" stroke-linecap="round" stroke-linejoin="round"/>
<path d="M776.6 475.7L777.2 474.4L778.1 473.1" fill="none" stroke="#d7dbe9" stroke-width="1.3" stroke-linecap="round" stroke-linejoin="round"/>
<path d="M777.5 476.4L778.9 475.8L780.3 475.3L781.5 474.4L782.7 473.5" fill="none" stroke="#d7dbe9" stroke-width="1.5" stroke-linecap="round" stroke-linejoin="round"/>
<path d="M772.3 466.7L773.8 466.7L775.3 466.8L776.8 466.7L778.3 466.7" fill="none" stroke="#d7dbe9" stroke-width="1.4" stroke-linecap="round" stroke-linejoin="round"/>
<path d="M770.4 464.3L771.6 463.5L772.7 462.4" fill="none" stroke="#d7dbe9" stroke-width="1.0" stroke-linecap="round" stroke-linejoin="round"/>
<path d="M765.2 462.1L765.2 460.6L765.0 459.1L765.2 457.6" fill="none" stroke="#d7dbe9" stroke-width="1.7" stroke-linecap="round" stroke-linejoin="round"/>
<path d="M766.1 462.3L767.2 461.4L768.6 460.8L769.9 460.0" fill="none" stroke="#d7dbe9" stroke-width="1.6" stroke-linecap="round" stroke-linejoin="round"/>
<path d="M755.7 458.5L756.8 457.4L758.2 456.8L759.6 456.3" fill="none" stroke="#d7dbe9" stroke-width="1.7" stroke-linecap="round" stroke-linejoin="round"/>
<path d="M760.0 460.1L760.0 458.6L759.7 457.1L759.1 455.7" fill="none" stroke="#d7dbe9" stroke-width="1.6" stroke-linecap="round" stroke-linejoin="round"/>
<path d="M756.5 459.1L757.6 458.0L758.3 456.7L758.8 455.3L759.4 453.9" fill="none" stroke="#d7dbe9" stroke-width="1.7" stroke-linecap="round" stroke-linejoin="round"/>
<path d="M752.6 459.7L752.7 458.2L752.5 456.7L752.0 455.3" fill="none" stroke="#d7dbe9" stroke-width="1.6" stroke-linecap="round" stroke-linejoin="round"/>
<path d="M747.1 459.4L748.5 459.0L750.0 458.9L751.4 458.4" fill="none" stroke="#d7dbe9" stroke-width="1.1" stroke-linecap="round" stroke-linejoin="round"/>
<path d="M746.7 456.9L748.1 457.4L749.6 457.5" fill="none" stroke="#d7dbe9" stroke-width="1.5" stroke-linecap="round" stroke-linejoin="round"/>
<path d="M747.3 449.6L748.8 449.8L750.2 450.2L751.7 450.6L753.1 451.2" fill="none" stroke="#d7dbe9" stroke-width="1.3" stroke-linecap="round" stroke-linejoin="round"/>
<path d="M746.1 452.5L747.1 453.7L748.3 454.5L749.4 455.5" fill="none" stroke="#d7dbe9" stroke-width="1.5" stroke-linecap="round" stroke-linejoin="round"/>
<path d="M747.4 444.1L748.8 444.7L750.2 445.2L751.4 446.1" fill="none" stroke="#d7dbe9" stroke-width="1.7" stroke-linecap="round" stroke-linejoin="round"/>
<path d="M748.3 446.4L749.4 445.5L750.7 444.7L751.9 443.7" fill="none" stroke="#d7dbe9" stroke-width="1.2" stroke-linecap="round" stroke-linejoin="round"/>
<path d="M747.9 445.1L749.4 445.2L750.9 445.4L752.3 445.7" fill="none" stroke="#d7dbe9" stroke-width="1.7" stroke-linecap="round" stroke-linejoin="round"/>
<path d="M738.7 441.0L739.3 439.6L739.5 438.2L739.2 436.7L738.6 435.3" fill="none" stroke="#d7dbe9" stroke-width="1.7" stroke-linecap="round" stroke-linejoin="round"/>
<path d="M739.1 441.1L738.5 439.7L737.5 438.6" fill="none" stroke="#d7dbe9" stroke-width="1.1" stroke-linecap="round" stroke-linejoin="round"/>
<path d="M741.8 441.5L741.5 440.1L740.8 438.7L740.6 437.2" fill="none" stroke="#d7dbe9" stroke-width="1.6" stroke-linecap="round" stroke-linejoin="round"/>
<path d="M735.8 435.0L737.3 434.8L738.8 434.7L740.3 434.4L741.6 433.8" fill="none" stroke="#d7dbe9" stroke-width="1.3" stroke-linecap="round" stroke-linejoin="round"/>
<path d="M731.5 434.1L731.3 432.6L730.7 431.3L729.7 430.2" fill="none" stroke="#d7dbe9" stroke-width="1.0" stroke-linecap="round" stroke-linejoin="round"/>
<path d="M734.5 434.5L735.3 433.2L736.2 432.0L737.3 431.0L738.1 429.8" fill="none" stroke="#d7dbe9" stroke-width="1.1" stroke-linecap="round" stroke-linejoin="round"/>
<path d="M728.9 428.6L730.2 427.8L731.7 427.5L733.1 427.2" fill="none" stroke="#d7dbe9" stroke-width="1.5" stroke-linecap="round" stroke-linejoin="round"/>
<path d="M723.7 416.9L725.1 416.5L726.6 416.6L728.1 416.8L729.6 416.7" fill="none" stroke="#d7dbe9" stroke-width="1.4" stroke-linecap="round" stroke-linejoin="round"/>
<path d="M725.8 421.0L726.5 419.7L727.1 418.3L727.5 416.9L727.6 415.4" fill="none" stroke="#d7dbe9" stroke-width="1.7" stroke-linecap="round" stroke-linejoin="round"/>
<path d="M723.9 417.4L725.3 416.8L726.5 415.9" fill="none" stroke="#d7dbe9" stroke-width="1.2" stroke-linecap="round" stroke-linejoin="round"/>
<path d="M727.0 423.6L728.1 422.6L729.4 421.8" fill="none" stroke="#d7dbe9" stroke-width="1.7" stroke-linecap="round" stroke-linejoin="round"/>
<path d="M718.6 415.0L717.6 413.9L717.0 412.5L716.8 411.0" fill="none" stroke="#d7dbe9" stroke-width="1.7" stroke-linecap="round" stroke-linejoin="round"/>
<path d="M722.8 416.4L722.1 415.1L721.2 413.9L720.0 413.0L718.8 412.1" fill="none" stroke="#d7dbe9" stroke-width="1.1" stroke-linecap="round" stroke-linejoin="round"/>
<path d="M712.3 408.3L713.5 407.4L714.4 406.2L715.6 405.3L716.7 404.2" fill="none" stroke="#d7dbe9" stroke-width="1.8" stroke-linecap="round" stroke-linejoin="round"/>
<path d="M707.3 403.8L707.3 402.3L707.1 400.9L707.1 399.4L707.6 397.9" fill="none" stroke="#d7dbe9" stroke-width="1.3" stroke-linecap="round" stroke-linejoin="round"/>
<path d="M706.9 403.8L708.2 403.0L709.5 402.3L710.9 401.9L712.4 401.6" fill="none" stroke="#d7dbe9" stroke-width="1.6" stroke-linecap="round" stroke-linejoin="round"/>
<path d="M700.9 398.0L702.3 397.3L703.3 396.2" fill="none" stroke="#d7dbe9" stroke-width="1.6" stroke-linecap="round" stroke-linejoin="round"/>
<path d="M702.1 399.3L702.3 397.8L702.2 396.3L701.9 394.8L702.0 393.3" fill="none" stroke="#d7dbe9" stroke-width="1.7" stroke-linecap="round" stroke-linejoin="round"/>
<path d="M735.0 419.0L736.9 421.1L738.7 423.3L740.0 425.9L742.0 428.0L744.0 430.0L745.8 432.2L748.0 434.0L750.0 436.0L751.1 438.7L752.7 441.2L754.5 443.5L756.0 446.0" fill="none" stroke="#d7dbe9" stroke-width="1.2" stroke-linecap="round" stroke-linejoin="round"/>
<path d="M750.0 428.0L752.0 429.5L754.0 430.9L755.8 432.8L758.0 434.0L760.3 435.8L762.8 437.3L765.6 438.4L768.0 440.0L769.7 442.3L772.2 443.8L773.8 446.2L776.0 448.0L777.9 450.1L780.2 451.8L781.7 454.3L784.0 456.0" fill="none" stroke="#d7dbe9" stroke-width="1.2" stroke-linecap="round" stroke-linejoin="round"/>
<path d="M768.0 440.0L767.2 442.4L767.4 445.1L766.4 447.5L766.0 450.0L767.1 452.5L768.0 455.0L769.1 457.5L770.0 460.0" fill="none" stroke="#d7dbe9" stroke-width="1.1" stroke-linecap="round" stroke-linejoin="round"/>
<path d="M784.0 448.0L785.7 449.8L787.1 451.9L788.3 454.2L790.0 456.0L791.2 458.2L792.6 460.3L794.3 462.1L796.0 464.0" fill="none" stroke="#d7dbe9" stroke-width="1.1" stroke-linecap="round" stroke-linejoin="round"/>
<path d="M800.0 453.0L801.7 455.8L802.8 459.0L804.0 462.0L806.4 464.7L808.0 468.0" fill="none" stroke="#d7dbe9" stroke-width="1.1" stroke-linecap="round" stroke-linejoin="round"/>
<path d="M724.0 412.0L726.8 412.2L729.2 413.8L732.0 414.0L733.8 416.2L735.8 418.2L738.0 420.0" fill="none" stroke="#d7dbe9" stroke-width="1.0" stroke-linecap="round" stroke-linejoin="round"/>
<path d="M742.0 440.0L745.0 441.9L748.0 444.0" fill="none" stroke="#d7dbe9" stroke-width="1.0" stroke-linecap="round" stroke-linejoin="round"/>
<path d="M776.0 462.0L777.9 464.1L780.3 465.7L782.0 468.0" fill="none" stroke="#d7dbe9" stroke-width="1.0" stroke-linecap="round" stroke-linejoin="round"/>
<path d="M708.0 402.0L709.8 404.2L712.0 406.0L714.0 408.0L715.7 409.9L718.2 410.8L720.0 412.6L722.0 414.0" fill="none" stroke="#d7dbe9" stroke-width="1.0" stroke-linecap="round" stroke-linejoin="round"/>
<path d="M749.5 439.2L749.3 437.6L748.7 436.1" fill="none" stroke="#d7dbe9" stroke-width="0.7" stroke-linecap="round" stroke-linejoin="round"/>
<path d="M746.0 428.1L746.2 426.6L746.6 425.0" fill="none" stroke="#d7dbe9" stroke-width="0.8" stroke-linecap="round" stroke-linejoin="round"/>
<path d="M710.1 403.1L711.0 401.8L711.5 400.3L711.9 398.7" fill="none" stroke="#d7dbe9" stroke-width="1.0" stroke-linecap="round" stroke-linejoin="round"/>
<path d="M732.0 415.5L733.4 416.3L735.0 416.7L736.4 417.4L737.8 418.2" fill="none" stroke="#d7dbe9" stroke-width="1.1" stroke-linecap="round" stroke-linejoin="round"/>
<path d="M775.3 443.1L775.2 441.5L775.2 439.9L775.0 438.3" fill="none" stroke="#d7dbe9" stroke-width="1.2" stroke-linecap="round" stroke-linejoin="round"/>
<path d="M720.3 413.5L721.6 414.4L722.7 415.6L723.8 416.7" fill="none" stroke="#d7dbe9" stroke-width="0.8" stroke-linecap="round" stroke-linejoin="round"/>
<path d="M716.2 410.0L716.7 411.5L717.0 413.1L717.5 414.6" fill="none" stroke="#d7dbe9" stroke-width="0.7" stroke-linecap="round" stroke-linejoin="round"/>
<path d="M799.8 462.5L801.0 463.4L802.3 464.4" fill="none" stroke="#d7dbe9" stroke-width="1.2" stroke-linecap="round" stroke-linejoin="round"/>
<path d="M771.7 439.5L771.1 438.1L770.5 436.6" fill="none" stroke="#d7dbe9" stroke-width="1.3" stroke-linecap="round" stroke-linejoin="round"/>
<path d="M777.7 469.0L779.1 469.8L780.5 470.6L781.7 471.6L783.0 472.5" fill="none" stroke="#d7dbe9" stroke-width="1.1" stroke-linecap="round" stroke-linejoin="round"/>
<path d="M733.6 428.7L735.0 429.6L736.3 430.5" fill="none" stroke="#d7dbe9" stroke-width="1.0" stroke-linecap="round" stroke-linejoin="round"/>
<path d="M739.1 421.7L739.3 423.3L739.0 424.9" fill="none" stroke="#d7dbe9" stroke-width="1.1" stroke-linecap="round" stroke-linejoin="round"/>
<path d="M738.2 438.7L736.8 437.9L735.3 437.5" fill="none" stroke="#d7dbe9" stroke-width="0.9" stroke-linecap="round" stroke-linejoin="round"/>
<path d="M760.3 446.9L759.5 445.6L758.8 444.1L758.4 442.6L757.7 441.1" fill="none" stroke="#d7dbe9" stroke-width="1.1" stroke-linecap="round" stroke-linejoin="round"/>
<path d="M805.2 462.1L804.0 461.0L802.8 460.1" fill="none" stroke="#d7dbe9" stroke-width="1.2" stroke-linecap="round" stroke-linejoin="round"/>
<path d="M793.8 451.0L794.0 449.4L794.5 447.9L794.9 446.4" fill="none" stroke="#d7dbe9" stroke-width="0.8" stroke-linecap="round" stroke-linejoin="round"/>
<path d="M784.6 466.1L783.8 464.7" fill="none" stroke="#d7dbe9" stroke-width="0.9" stroke-linecap="round" stroke-linejoin="round"/>
<path d="M777.9 456.6L779.0 457.7L779.9 459.1L780.8 460.4L781.3 461.9" fill="none" stroke="#d7dbe9" stroke-width="0.7" stroke-linecap="round" stroke-linejoin="round"/>
<path d="M794.6 458.0L794.7 459.6L794.9 461.2L794.7 462.8" fill="none" stroke="#d7dbe9" stroke-width="1.1" stroke-linecap="round" stroke-linejoin="round"/>
<path d="M780.3 470.1L779.7 471.6L778.8 472.9" fill="none" stroke="#d7dbe9" stroke-width="0.8" stroke-linecap="round" stroke-linejoin="round"/>
<path d="M731.7 417.7L733.0 418.6L734.4 419.5L735.6 420.5" fill="none" stroke="#d7dbe9" stroke-width="0.7" stroke-linecap="round" stroke-linejoin="round"/>
<path d="M751.6 429.4L750.9 428.0L750.1 426.6" fill="none" stroke="#d7dbe9" stroke-width="1.1" stroke-linecap="round" stroke-linejoin="round"/>
<path d="M790.7 453.0L790.7 454.6L790.8 456.2" fill="none" stroke="#d7dbe9" stroke-width="1.1" stroke-linecap="round" stroke-linejoin="round"/>
<path d="M739.9 417.7L738.6 416.8L737.4 415.6L736.1 414.7L735.0 413.6" fill="none" stroke="#d7dbe9" stroke-width="1.1" stroke-linecap="round" stroke-linejoin="round"/>
<path d="M775.8 469.2L776.9 470.3" fill="none" stroke="#d7dbe9" stroke-width="1.0" stroke-linecap="round" stroke-linejoin="round"/>
<path d="M752.3 429.7L751.6 428.3L751.0 426.8" fill="none" stroke="#d7dbe9" stroke-width="0.8" stroke-linecap="round" stroke-linejoin="round"/>
<path d="M792.1 450.3L793.0 451.7L794.2 452.7L795.5 453.6" fill="none" stroke="#d7dbe9" stroke-width="1.0" stroke-linecap="round" stroke-linejoin="round"/>
<path d="M736.2 426.9L735.6 425.4L735.2 423.9L735.2 422.3L734.9 420.7" fill="none" stroke="#d7dbe9" stroke-width="1.2" stroke-linecap="round" stroke-linejoin="round"/>
<path d="M738.1 437.0L738.8 435.5L739.0 433.9" fill="none" stroke="#d7dbe9" stroke-width="0.8" stroke-linecap="round" stroke-linejoin="round"/>
<path d="M801.2 461.0L801.6 459.4" fill="none" stroke="#d7dbe9" stroke-width="1.2" stroke-linecap="round" stroke-linejoin="round"/>
<path d="M741.3 417.0L740.0 416.0L738.9 414.9L737.7 413.8" fill="none" stroke="#d7dbe9" stroke-width="1.1" stroke-linecap="round" stroke-linejoin="round"/>
<path d="M747.5 455.8L747.6 457.4L747.4 458.9L747.2 460.5" fill="none" stroke="#d7dbe9" stroke-width="1.1" stroke-linecap="round" stroke-linejoin="round"/>
<path d="M781.8 445.7L780.4 445.0L779.2 443.9L778.4 442.5L777.9 441.0" fill="none" stroke="#d7dbe9" stroke-width="0.8" stroke-linecap="round" stroke-linejoin="round"/>
<path d="M789.2 459.2L788.4 457.8L787.8 456.3L787.4 454.8" fill="none" stroke="#d7dbe9" stroke-width="0.9" stroke-linecap="round" stroke-linejoin="round"/>
<path d="M785.4 468.8L784.7 467.3L783.5 466.2L782.3 465.2L780.9 464.4" fill="none" stroke="#d7dbe9" stroke-width="1.3" stroke-linecap="round" stroke-linejoin="round"/>
<path d="M751.1 430.6L752.0 431.9L753.2 433.0L754.1 434.3L755.0 435.6" fill="none" stroke="#d7dbe9" stroke-width="0.8" stroke-linecap="round" stroke-linejoin="round"/>
<path d="M789.4 451.8L788.6 453.1L787.5 454.3L786.4 455.4" fill="none" stroke="#d7dbe9" stroke-width="1.2" stroke-linecap="round" stroke-linejoin="round"/>
<path d="M767.6 456.4L767.9 458.0L768.6 459.4L769.1 460.9" fill="none" stroke="#d7dbe9" stroke-width="1.1" stroke-linecap="round" stroke-linejoin="round"/>
<path d="M794.4 460.9L794.9 462.4L795.6 463.9L796.1 465.4" fill="none" stroke="#d7dbe9" stroke-width="0.8" stroke-linecap="round" stroke-linejoin="round"/>
<path d="M741.4 427.4L741.1 429.0L740.5 430.5" fill="none" stroke="#d7dbe9" stroke-width="1.3" stroke-linecap="round" stroke-linejoin="round"/>
<path d="M776.2 455.6L775.9 457.2L775.8 458.8L775.5 460.3" fill="none" stroke="#d7dbe9" stroke-width="0.8" stroke-linecap="round" stroke-linejoin="round"/>
<path d="M750.0 457.0L749.2 455.7L748.2 454.4L747.6 452.9" fill="none" stroke="#d7dbe9" stroke-width="1.0" stroke-linecap="round" stroke-linejoin="round"/>
<path d="M779.9 439.9L780.3 438.4" fill="none" stroke="#d7dbe9" stroke-width="1.0" stroke-linecap="round" stroke-linejoin="round"/>
<path d="M767.1 460.6L767.8 462.1L768.7 463.4L769.4 464.8L770.2 466.2" fill="none" stroke="#d7dbe9" stroke-width="1.2" stroke-linecap="round" stroke-linejoin="round"/>
<path d="M764.2 437.5L764.1 439.1L764.0 440.7L764.2 442.3L764.2 443.9" fill="none" stroke="#d7dbe9" stroke-width="1.1" stroke-linecap="round" stroke-linejoin="round"/>
<path d="M758.4 437.3L757.8 435.8L756.8 434.5L755.6 433.5" fill="none" stroke="#d7dbe9" stroke-width="0.9" stroke-linecap="round" stroke-linejoin="round"/>
<path d="M755.3 427.8L755.4 429.4L755.7 431.0" fill="none" stroke="#d7dbe9" stroke-width="1.1" stroke-linecap="round" stroke-linejoin="round"/>
<path d="M748.8 457.6L749.1 456.0L749.0 454.4" fill="none" stroke="#d7dbe9" stroke-width="0.7" stroke-linecap="round" stroke-linejoin="round"/>
<path d="M760.4 443.4L761.9 443.8L763.4 444.3L764.8 445.1" fill="none" stroke="#d7dbe9" stroke-width="1.0" stroke-linecap="round" stroke-linejoin="round"/>
<path d="M789.4 453.5L789.2 451.9L788.8 450.3L788.0 448.9" fill="none" stroke="#d7dbe9" stroke-width="1.3" stroke-linecap="round" stroke-linejoin="round"/>
<path d="M802.4 458.0L803.1 459.4L803.6 460.9" fill="none" stroke="#d7dbe9" stroke-width="1.3" stroke-linecap="round" stroke-linejoin="round"/>
<path d="M756.0 452.3L755.2 450.9" fill="none" stroke="#d7dbe9" stroke-width="1.3" stroke-linecap="round" stroke-linejoin="round"/>
<path d="M780.4 468.8L779.4 467.5L778.7 466.1L777.9 464.7L777.2 463.2" fill="none" stroke="#d7dbe9" stroke-width="1.0" stroke-linecap="round" stroke-linejoin="round"/>
<path d="M812.1 460.3L812.5 461.8L812.8 463.4L812.7 465.0" fill="none" stroke="#d7dbe9" stroke-width="0.7" stroke-linecap="round" stroke-linejoin="round"/>
<path d="M756.2 435.4L756.8 436.9L757.7 438.2L758.7 439.4" fill="none" stroke="#d7dbe9" stroke-width="1.2" stroke-linecap="round" stroke-linejoin="round"/>
<path d="M774.6 456.0L773.8 457.4L772.6 458.5L771.3 459.5L770.1 460.5" fill="none" stroke="#d7dbe9" stroke-width="0.7" stroke-linecap="round" stroke-linejoin="round"/>
<path d="M737.5 424.6L737.8 426.2L738.3 427.7" fill="none" stroke="#d7dbe9" stroke-width="0.8" stroke-linecap="round" stroke-linejoin="round"/>
<path d="M793.7 462.2L792.4 461.3L790.9 460.7" fill="none" stroke="#d7dbe9" stroke-width="1.3" stroke-linecap="round" stroke-linejoin="round"/>
<path d="M730.7 431.8L732.1 432.6L733.5 433.3" fill="none" stroke="#d7dbe9" stroke-width="0.8" stroke-linecap="round" stroke-linejoin="round"/>
<path d="M808.8 465.2L809.0 463.6L809.0 462.0" fill="none" stroke="#d7dbe9" stroke-width="1.1" stroke-linecap="round" stroke-linejoin="round"/>
<ellipse cx="725.8" cy="430.6" rx="0.8" ry="0.9" fill="#0e2014"/>
<ellipse cx="784.8" cy="474.2" rx="0.6" ry="0.7" fill="#0e2014"/>
<ellipse cx="734.3" cy="443.0" rx="0.6" ry="0.9" fill="#0e2014"/>
<ellipse cx="774.8" cy="473.0" rx="0.4" ry="0.5" fill="#0e2014"/>
<ellipse cx="743.4" cy="453.8" rx="0.4" ry="0.7" fill="#0e2014"/>
<ellipse cx="768.8" cy="472.3" rx="0.4" ry="0.7" fill="#0e2014"/>
<ellipse cx="730.7" cy="438.0" rx="0.8" ry="0.5" fill="#0e2014"/>
<ellipse cx="753.6" cy="460.7" rx="0.7" ry="0.7" fill="#0e2014"/>
<ellipse cx="764.2" cy="467.7" rx="0.9" ry="0.8" fill="#0e2014"/>
<ellipse cx="759.3" cy="465.2" rx="0.6" ry="0.7" fill="#0e2014"/>
<ellipse cx="747.3" cy="455.4" rx="0.7" ry="0.5" fill="#0e2014"/>
<ellipse cx="773.3" cy="470.0" rx="0.6" ry="0.5" fill="#0e2014"/>
<ellipse cx="759.5" cy="463.2" rx="0.6" ry="0.8" fill="#0e2014"/>
<ellipse cx="791.0" cy="474.5" rx="0.5" ry="0.5" fill="#0e2014"/>
<ellipse cx="778.6" cy="470.1" rx="0.6" ry="0.8" fill="#0e2014"/>
<ellipse cx="747.4" cy="454.7" rx="0.8" ry="0.8" fill="#0e2014"/>
<ellipse cx="720.0" cy="421.3" rx="2.6" ry="1.3" transform="rotate(-30 720.0 421.3)" fill="#0e2014"/>
<ellipse cx="729.3" cy="422.8" rx="1.2" ry="0.9" transform="rotate(-30 729.3 422.8)" fill="#0e2014"/>
<ellipse cx="756.7" cy="479.6" rx="1.4" ry="0.9" transform="rotate(-30 756.7 479.6)" fill="#0e2014"/>
<ellipse cx="759.5" cy="465.5" rx="1.2" ry="1.0" transform="rotate(-30 759.5 465.5)" fill="#0e2014"/>
<ellipse cx="767.9" cy="467.0" rx="1.2" ry="1.0" transform="rotate(-30 767.9 467.0)" fill="#0e2014"/>
<ellipse cx="776.0" cy="478.5" rx="1.5" ry="1.0" transform="rotate(-30 776.0 478.5)" fill="#0e2014"/>
<ellipse cx="782.0" cy="477.8" rx="1.3" ry="1.0" transform="rotate(-30 782.0 477.8)" fill="#0e2014"/>
<path d="M785.4 482.3L787.1 481.7L789.0 481.2L788.3 478.8L789.1 477.5L789.3 475.8L790.8 475.0L792.2 474.0L794.4 477.0L795.5 474.5L796.9 473.7L798.6 474.1L800.0 473.0L801.5 473.5L802.8 473.1L804.3 473.7L805.7 473.1L807.0 472.3L808.4 473.0L809.5 474.4L811.4 473.9L812.8 474.8L814.0 475.9L816.1 475.0L816.6 477.9L818.7 476.8L825.0 482.3L834.0 484.0L843.0 482.3L852.0 482.3L861.1 484.1L866.5 487.7L873.7 485.9L877.3 480.5L883.6 482.3L888.2 482.3L888.2 495.8L895.3 499.4L892.6 499.0L894.3 502.8L891.9 502.6L891.3 504.2L889.9 505.0L891.1 506.2L890.3 508.2L890.2 510.0L892.0 511.0L892.2 512.7L892.0 514.7L894.4 515.2L895.3 516.5L896.2 517.7L897.9 518.0L899.1 518.8L900.2 519.8L900.1 522.0L901.0 523.2L902.5 523.7L903.1 525.2L903.4 526.8L903.6 528.5L903.8 530.3L906.1 530.9L905.5 532.4L904.2 533.8L903.2 535.2L904.3 537.2L903.3 536.2L902.2 535.3L900.7 535.0L900.6 532.9L898.9 532.7L897.4 532.4L896.5 530.7L895.1 530.3L893.7 529.6L892.5 528.6L890.6 529.1L889.7 527.4L888.1 527.3L886.7 527.8L885.8 529.4L884.2 529.5L881.9 528.0L880.3 528.0L880.0 531.0L878.4 530.8L876.8 531.6L875.3 531.0L873.7 530.9L873.0 529.1L870.9 529.9L869.4 529.7L868.1 528.9L866.8 528.3L866.0 526.6L864.8 525.9L863.4 525.3L862.0 524.9L860.4 524.8L859.3 523.7L857.5 524.0L856.8 521.7L855.4 521.3L853.6 521.6L852.1 521.1L850.7 520.5L849.3 519.9L848.0 519.1L846.7 518.3L845.8 517.2L844.2 516.7L845.8 513.5L842.7 514.3L842.2 512.8L841.5 511.6L840.5 510.5L839.5 509.5L838.5 511.1L836.2 508.3L835.1 509.5L834.0 511.0L832.2 511.5L830.9 510.4L829.4 510.2L827.9 509.8L826.7 508.6L825.8 506.7L824.3 506.4L822.2 507.5L821.9 504.0L819.6 505.7L817.7 506.2L816.5 505.3L815.4 504.0L814.1 503.1L812.9 502.0L811.3 501.9L810.6 499.6L809.2 499.0L807.0 500.3L806.3 499.0L806.4 497.5L806.5 496.0L805.2 494.9L803.7 494.8L802.7 493.4L801.0 494.0L800.2 492.0L798.2 493.5L797.3 491.6L795.4 492.8L794.4 491.3L793.1 490.2L791.5 489.9L790.1 489.0L788.2 489.3L787.2 487.6L785.4 487.7L785.9 485.9L785.0 484.1Z" fill="#167c36"/>
<path d="M786.6 479.0L787.5 480.3L788.1 481.6L789.0 482.8" fill="none" stroke="#d7dbe9" stroke-width="1.2" stroke-linecap="round" stroke-linejoin="round"/>
<path d="M789.1 475.3L789.9 476.6L790.3 478.0L790.8 479.4" fill="none" stroke="#d7dbe9" stroke-width="1.2" stroke-linecap="round" stroke-linejoin="round"/>
<path d="M790.3 474.0L790.5 475.5L791.0 477.0L791.4 478.4L791.8 479.8" fill="none" stroke="#d7dbe9" stroke-width="1.5" stroke-linecap="round" stroke-linejoin="round"/>
<path d="M793.2 473.5L792.7 474.9L792.5 476.4" fill="none" stroke="#d7dbe9" stroke-width="1.8" stroke-linecap="round" stroke-linejoin="round"/>
<path d="M799.4 471.9L799.6 473.4L799.8 474.9L800.2 476.3L800.7 477.8" fill="none" stroke="#d7dbe9" stroke-width="1.3" stroke-linecap="round" stroke-linejoin="round"/>
<path d="M805.4 471.3L805.4 472.8L805.7 474.3L805.6 475.8" fill="none" stroke="#d7dbe9" stroke-width="1.7" stroke-linecap="round" stroke-linejoin="round"/>
<path d="M805.9 471.5L805.1 472.8L804.5 474.1" fill="none" stroke="#d7dbe9" stroke-width="1.3" stroke-linecap="round" stroke-linejoin="round"/>
<path d="M801.3 471.9L802.3 473.0L803.1 474.3L804.2 475.3L805.4 476.2" fill="none" stroke="#d7dbe9" stroke-width="1.4" stroke-linecap="round" stroke-linejoin="round"/>
<path d="M809.3 471.9L808.8 473.3L808.2 474.7L807.8 476.2" fill="none" stroke="#d7dbe9" stroke-width="1.5" stroke-linecap="round" stroke-linejoin="round"/>
<path d="M810.5 472.5L809.8 473.8L809.1 475.1L808.5 476.5L808.3 478.0" fill="none" stroke="#d7dbe9" stroke-width="1.8" stroke-linecap="round" stroke-linejoin="round"/>
<path d="M819.0 475.6L818.9 477.1L818.6 478.6L818.3 480.1" fill="none" stroke="#d7dbe9" stroke-width="1.1" stroke-linecap="round" stroke-linejoin="round"/>
<path d="M813.6 473.8L814.1 475.2L814.1 476.7L814.3 478.2L814.9 479.6L815.5 481.0" fill="none" stroke="#d7dbe9" stroke-width="1.3" stroke-linecap="round" stroke-linejoin="round"/>
<path d="M893.6 502.8L892.4 502.0L891.2 501.0L890.3 499.9" fill="none" stroke="#d7dbe9" stroke-width="1.3" stroke-linecap="round" stroke-linejoin="round"/>
<path d="M891.6 506.7L890.3 505.9L888.8 505.5L887.5 504.9" fill="none" stroke="#d7dbe9" stroke-width="1.1" stroke-linecap="round" stroke-linejoin="round"/>
<path d="M891.6 506.2L890.2 506.7L889.0 507.6L887.7 508.5" fill="none" stroke="#d7dbe9" stroke-width="1.3" stroke-linecap="round" stroke-linejoin="round"/>
<path d="M894.2 512.6L892.8 513.1L891.3 513.4L889.8 513.5" fill="none" stroke="#d7dbe9" stroke-width="1.1" stroke-linecap="round" stroke-linejoin="round"/>
<path d="M894.0 512.3L893.3 513.6L892.5 514.8L891.5 515.9" fill="none" stroke="#d7dbe9" stroke-width="1.1" stroke-linecap="round" stroke-linejoin="round"/>
<path d="M895.3 514.2L894.0 515.0L892.9 516.0L892.2 517.3L891.6 518.7" fill="none" stroke="#d7dbe9" stroke-width="1.2" stroke-linecap="round" stroke-linejoin="round"/>
<path d="M898.9 518.6L897.6 519.3L896.3 520.0" fill="none" stroke="#d7dbe9" stroke-width="1.2" stroke-linecap="round" stroke-linejoin="round"/>
<path d="M903.1 522.6L902.0 523.7L900.9 524.7L899.7 525.5" fill="none" stroke="#d7dbe9" stroke-width="1.1" stroke-linecap="round" stroke-linejoin="round"/>
<path d="M900.1 519.7L899.9 521.2L899.2 522.5L898.7 524.0" fill="none" stroke="#d7dbe9" stroke-width="1.3" stroke-linecap="round" stroke-linejoin="round"/>
<path d="M901.6 521.2L900.3 521.9L899.0 522.6L897.8 523.5" fill="none" stroke="#d7dbe9" stroke-width="1.7" stroke-linecap="round" stroke-linejoin="round"/>
<path d="M904.8 526.2L903.8 527.2L902.6 528.2L901.4 529.1L900.4 530.2" fill="none" stroke="#d7dbe9" stroke-width="1.1" stroke-linecap="round" stroke-linejoin="round"/>
<path d="M905.6 536.3L904.5 535.3L903.3 534.5L902.1 533.5" fill="none" stroke="#d7dbe9" stroke-width="1.2" stroke-linecap="round" stroke-linejoin="round"/>
<path d="M905.8 535.8L904.4 536.4L903.2 537.3L902.0 538.2L900.7 539.0" fill="none" stroke="#d7dbe9" stroke-width="1.3" stroke-linecap="round" stroke-linejoin="round"/>
<path d="M906.1 535.2L904.9 534.3L904.0 533.1L903.2 531.9L902.1 530.8" fill="none" stroke="#d7dbe9" stroke-width="1.3" stroke-linecap="round" stroke-linejoin="round"/>
<path d="M901.3 536.0L901.2 534.5L900.8 533.1L900.8 531.6L900.7 530.1" fill="none" stroke="#d7dbe9" stroke-width="1.0" stroke-linecap="round" stroke-linejoin="round"/>
<path d="M903.2 537.8L904.2 536.7L905.3 535.6" fill="none" stroke="#d7dbe9" stroke-width="1.1" stroke-linecap="round" stroke-linejoin="round"/>
<path d="M896.7 533.0L897.6 531.7L898.7 530.7L899.9 529.7L901.1 528.9L902.2 527.9" fill="none" stroke="#d7dbe9" stroke-width="1.6" stroke-linecap="round" stroke-linejoin="round"/>
<path d="M898.5 533.5L898.2 532.0L897.9 530.5L897.4 529.2" fill="none" stroke="#d7dbe9" stroke-width="1.1" stroke-linecap="round" stroke-linejoin="round"/>
<path d="M889.8 529.5L890.2 528.0L891.0 526.7L891.3 525.3L891.8 523.9" fill="none" stroke="#d7dbe9" stroke-width="1.2" stroke-linecap="round" stroke-linejoin="round"/>
<path d="M897.4 533.2L898.5 532.2L899.6 531.2L900.3 529.9" fill="none" stroke="#d7dbe9" stroke-width="1.5" stroke-linecap="round" stroke-linejoin="round"/>
<path d="M882.3 531.3L882.1 529.8L882.2 528.3L881.9 526.8L881.6 525.3" fill="none" stroke="#d7dbe9" stroke-width="1.1" stroke-linecap="round" stroke-linejoin="round"/>
<path d="M884.0 530.5L883.5 529.1L882.8 527.8" fill="none" stroke="#d7dbe9" stroke-width="1.8" stroke-linecap="round" stroke-linejoin="round"/>
<path d="M874.5 532.0L873.8 530.7L872.8 529.6L871.6 528.6L870.9 527.3" fill="none" stroke="#d7dbe9" stroke-width="1.5" stroke-linecap="round" stroke-linejoin="round"/>
<path d="M877.5 532.1L877.9 530.7L877.9 529.2L877.6 527.7" fill="none" stroke="#d7dbe9" stroke-width="1.2" stroke-linecap="round" stroke-linejoin="round"/>
<path d="M875.3 531.9L874.8 530.4L874.7 528.9L874.2 527.5" fill="none" stroke="#d7dbe9" stroke-width="1.4" stroke-linecap="round" stroke-linejoin="round"/>
<path d="M866.6 528.6L867.5 527.5L868.4 526.2L868.9 524.8" fill="none" stroke="#d7dbe9" stroke-width="1.7" stroke-linecap="round" stroke-linejoin="round"/>
<path d="M870.2 530.4L871.4 529.5L872.7 528.7" fill="none" stroke="#d7dbe9" stroke-width="1.2" stroke-linecap="round" stroke-linejoin="round"/>
<path d="M860.4 525.6L861.2 524.3L862.2 523.2L863.5 522.4" fill="none" stroke="#d7dbe9" stroke-width="1.3" stroke-linecap="round" stroke-linejoin="round"/>
<path d="M866.9 528.7L867.9 527.6L868.5 526.2L869.6 525.1" fill="none" stroke="#d7dbe9" stroke-width="1.6" stroke-linecap="round" stroke-linejoin="round"/>
<path d="M865.6 527.8L865.2 526.4L864.7 525.0L864.4 523.5" fill="none" stroke="#d7dbe9" stroke-width="1.8" stroke-linecap="round" stroke-linejoin="round"/>
<path d="M869.4 529.8L869.2 528.3L868.8 526.9L868.6 525.4L868.2 523.9" fill="none" stroke="#d7dbe9" stroke-width="1.3" stroke-linecap="round" stroke-linejoin="round"/>
<path d="M859.0 524.7L860.3 523.9L861.5 523.0L862.7 522.2L864.0 521.4" fill="none" stroke="#d7dbe9" stroke-width="1.5" stroke-linecap="round" stroke-linejoin="round"/>
<path d="M846.5 519.5L847.6 518.5L848.7 517.4L849.4 516.1L849.7 514.6" fill="none" stroke="#d7dbe9" stroke-width="1.7" stroke-linecap="round" stroke-linejoin="round"/>
<path d="M849.5 520.8L849.3 519.3L849.5 517.8L849.5 516.3" fill="none" stroke="#d7dbe9" stroke-width="1.3" stroke-linecap="round" stroke-linejoin="round"/>
<path d="M847.5 519.7L848.7 518.7L850.0 517.9L851.1 516.9" fill="none" stroke="#d7dbe9" stroke-width="1.4" stroke-linecap="round" stroke-linejoin="round"/>
<path d="M847.2 519.8L847.4 518.3L847.4 516.8L847.0 515.4L846.2 514.1" fill="none" stroke="#d7dbe9" stroke-width="1.2" stroke-linecap="round" stroke-linejoin="round"/>
<path d="M844.9 517.9L846.0 516.8L846.8 515.6" fill="none" stroke="#d7dbe9" stroke-width="1.3" stroke-linecap="round" stroke-linejoin="round"/>
<path d="M841.8 514.2L842.4 512.8L843.4 511.7L844.0 510.3L844.6 508.9" fill="none" stroke="#d7dbe9" stroke-width="1.7" stroke-linecap="round" stroke-linejoin="round"/>
<path d="M844.4 517.3L844.8 515.9L845.3 514.5L845.7 513.0" fill="none" stroke="#d7dbe9" stroke-width="1.2" stroke-linecap="round" stroke-linejoin="round"/>
<path d="M841.8 514.2L842.9 513.2L844.2 512.5L845.7 512.2L847.2 512.1" fill="none" stroke="#d7dbe9" stroke-width="1.1" stroke-linecap="round" stroke-linejoin="round"/>
<path d="M835.3 511.5L835.6 510.1L835.7 508.6L835.8 507.1L835.8 505.6" fill="none" stroke="#d7dbe9" stroke-width="1.0" stroke-linecap="round" stroke-linejoin="round"/>
<path d="M822.1 507.9L822.7 506.5L823.7 505.4L824.9 504.5L826.1 503.6" fill="none" stroke="#d7dbe9" stroke-width="1.1" stroke-linecap="round" stroke-linejoin="round"/>
<path d="M831.8 511.3L832.1 509.8L832.3 508.4L832.5 506.9L832.9 505.4L832.8 503.9" fill="none" stroke="#d7dbe9" stroke-width="1.4" stroke-linecap="round" stroke-linejoin="round"/>
<path d="M833.4 512.0L833.5 510.5L833.7 509.1L834.2 507.6" fill="none" stroke="#d7dbe9" stroke-width="1.1" stroke-linecap="round" stroke-linejoin="round"/>
<path d="M821.1 507.4L822.1 506.2L822.9 505.0L823.8 503.8L824.7 502.6" fill="none" stroke="#d7dbe9" stroke-width="1.5" stroke-linecap="round" stroke-linejoin="round"/>
<path d="M813.9 504.5L813.8 503.0L814.1 501.6L814.2 500.1L814.1 498.6" fill="none" stroke="#d7dbe9" stroke-width="1.1" stroke-linecap="round" stroke-linejoin="round"/>
<path d="M807.7 501.7L807.5 500.2L807.8 498.7L807.6 497.3" fill="none" stroke="#d7dbe9" stroke-width="1.8" stroke-linecap="round" stroke-linejoin="round"/>
<path d="M816.6 505.7L816.8 504.2L817.2 502.8" fill="none" stroke="#d7dbe9" stroke-width="1.3" stroke-linecap="round" stroke-linejoin="round"/>
<path d="M815.8 505.4L816.5 504.1L817.4 502.9L817.9 501.4L818.1 500.0" fill="none" stroke="#d7dbe9" stroke-width="1.3" stroke-linecap="round" stroke-linejoin="round"/>
<path d="M815.4 505.1L815.0 503.7L815.0 502.2L815.4 500.7L815.3 499.2" fill="none" stroke="#d7dbe9" stroke-width="1.5" stroke-linecap="round" stroke-linejoin="round"/>
<path d="M801.4 494.7L802.4 493.7L803.4 492.5" fill="none" stroke="#d7dbe9" stroke-width="1.6" stroke-linecap="round" stroke-linejoin="round"/>
<path d="M785.9 489.0L786.0 487.5L785.8 486.1" fill="none" stroke="#d7dbe9" stroke-width="1.1" stroke-linecap="round" stroke-linejoin="round"/>
<path d="M785.7 489.1L786.7 488.0L787.7 486.9L788.7 485.7" fill="none" stroke="#d7dbe9" stroke-width="1.5" stroke-linecap="round" stroke-linejoin="round"/>
<path d="M789.5 490.6L790.3 489.3L791.3 488.2L792.6 487.5" fill="none" stroke="#d7dbe9" stroke-width="1.6" stroke-linecap="round" stroke-linejoin="round"/>
<path d="M784.3 483.1L785.8 482.8L787.2 482.5L788.7 482.3" fill="none" stroke="#d7dbe9" stroke-width="1.4" stroke-linecap="round" stroke-linejoin="round"/>
<path d="M784.5 482.9L785.4 484.1L786.4 485.2L787.7 486.0" fill="none" stroke="#d7dbe9" stroke-width="1.1" stroke-linecap="round" stroke-linejoin="round"/>
<path d="M808.0 487.0L810.9 488.0L813.9 488.9L817.0 489.3L820.0 490.0L823.1 490.5L825.9 491.7L829.0 492.1L832.0 493.0L834.7 493.8L837.5 493.8L840.2 494.5L843.0 494.9L845.6 495.4L848.2 494.9L850.8 495.4L853.4 495.7L856.0 496.0L859.0 496.2L861.9 497.2L865.1 496.7L868.0 497.5L870.6 497.8L873.2 498.1L875.8 498.3L878.4 498.6L880.9 499.4L883.9 500.2L887.0 500.0L890.0 500.5L893.4 501.7L897.0 502.0" fill="none" stroke="#d7dbe9" stroke-width="1.4" stroke-linecap="round" stroke-linejoin="round"/>
<path d="M832.0 493.0L833.9 495.4L835.9 497.8L838.0 500.0L839.7 501.8L840.8 504.2L842.6 505.9L844.0 508.0" fill="none" stroke="#d7dbe9" stroke-width="1.2" stroke-linecap="round" stroke-linejoin="round"/>
<path d="M856.0 496.0L857.3 499.0L859.0 501.9L860.0 505.0L861.6 507.2L862.7 509.7L864.3 511.9L866.0 514.0L867.8 515.8L868.7 518.2L870.2 520.2L872.0 522.0" fill="none" stroke="#d7dbe9" stroke-width="1.2" stroke-linecap="round" stroke-linejoin="round"/>
<path d="M868.0 497.5L869.8 499.4L871.1 501.7L872.8 503.7L874.0 506.0L876.1 507.9L877.7 510.3L880.0 512.0L881.9 513.7L882.8 516.2L884.3 518.1L886.0 520.0" fill="none" stroke="#d7dbe9" stroke-width="1.2" stroke-linecap="round" stroke-linejoin="round"/>
<path d="M843.0 494.9L844.7 497.6L846.3 500.3L848.0 503.0L849.1 506.1L850.4 509.1L852.0 512.0" fill="none" stroke="#d7dbe9" stroke-width="1.1" stroke-linecap="round" stroke-linejoin="round"/>
<path d="M820.0 490.0L821.6 492.5L822.4 495.5L824.0 498.0" fill="none" stroke="#d7dbe9" stroke-width="1.0" stroke-linecap="round" stroke-linejoin="round"/>
<path d="M795.0 481.0L797.6 482.6L800.3 483.7L803.0 485.0L805.5 485.9L808.0 487.0" fill="none" stroke="#d7dbe9" stroke-width="1.0" stroke-linecap="round" stroke-linejoin="round"/>
<path d="M880.0 512.0L882.5 512.5L885.0 513.1L887.4 513.9L890.0 514.0" fill="none" stroke="#d7dbe9" stroke-width="1.0" stroke-linecap="round" stroke-linejoin="round"/>
<path d="M890.8 499.6L891.3 501.1L891.7 502.7" fill="none" stroke="#d7dbe9" stroke-width="1.3" stroke-linecap="round" stroke-linejoin="round"/>
<path d="M789.8 481.7L791.0 482.7L792.0 484.0L792.9 485.4L793.4 486.9L793.4 488.5" fill="none" stroke="#d7dbe9" stroke-width="0.8" stroke-linecap="round" stroke-linejoin="round"/>
<path d="M850.2 483.9L851.5 484.9L853.0 485.5L854.5 486.0L856.1 486.1" fill="none" stroke="#d7dbe9" stroke-width="0.9" stroke-linecap="round" stroke-linejoin="round"/>
<path d="M810.0 484.2L811.0 485.5L812.2 486.5L813.6 487.3L815.2 487.7" fill="none" stroke="#d7dbe9" stroke-width="1.0" stroke-linecap="round" stroke-linejoin="round"/>
<path d="M853.1 509.4L854.5 510.2L855.7 511.2" fill="none" stroke="#d7dbe9" stroke-width="0.8" stroke-linecap="round" stroke-linejoin="round"/>
<path d="M807.9 494.2L808.3 495.8" fill="none" stroke="#d7dbe9" stroke-width="0.7" stroke-linecap="round" stroke-linejoin="round"/>
<path d="M877.4 497.7L876.0 497.1L874.4 496.6L873.0 495.8L871.8 494.8" fill="none" stroke="#d7dbe9" stroke-width="1.1" stroke-linecap="round" stroke-linejoin="round"/>
<path d="M822.8 485.1L821.4 484.4L819.9 483.8L818.5 483.0L817.2 482.1L816.1 480.9" fill="none" stroke="#d7dbe9" stroke-width="1.2" stroke-linecap="round" stroke-linejoin="round"/>
<path d="M831.9 494.5L831.2 493.1L830.8 491.6L830.9 490.0L831.1 488.4L831.1 486.8" fill="none" stroke="#d7dbe9" stroke-width="0.7" stroke-linecap="round" stroke-linejoin="round"/>
<path d="M843.8 481.3L844.1 479.7L844.8 478.3L845.8 477.0" fill="none" stroke="#d7dbe9" stroke-width="0.7" stroke-linecap="round" stroke-linejoin="round"/>
<path d="M863.0 510.7L862.4 509.2L861.4 508.0L860.5 506.6L859.8 505.2L859.3 503.7" fill="none" stroke="#d7dbe9" stroke-width="0.8" stroke-linecap="round" stroke-linejoin="round"/>
<path d="M857.4 517.9L858.9 518.6L860.4 519.0" fill="none" stroke="#d7dbe9" stroke-width="1.0" stroke-linecap="round" stroke-linejoin="round"/>
<path d="M819.7 484.4L819.2 482.9L818.7 481.4" fill="none" stroke="#d7dbe9" stroke-width="1.2" stroke-linecap="round" stroke-linejoin="round"/>
<path d="M843.9 503.7L842.8 502.5L841.8 501.2L841.3 499.7L840.7 498.2L839.9 496.8" fill="none" stroke="#d7dbe9" stroke-width="1.1" stroke-linecap="round" stroke-linejoin="round"/>
<path d="M879.8 528.5L879.3 527.0L878.4 525.7L877.7 524.3L877.4 522.7" fill="none" stroke="#d7dbe9" stroke-width="0.7" stroke-linecap="round" stroke-linejoin="round"/>
<path d="M859.0 483.7L858.1 482.4L857.3 481.0L856.5 479.6L856.1 478.1" fill="none" stroke="#d7dbe9" stroke-width="1.0" stroke-linecap="round" stroke-linejoin="round"/>
<path d="M803.5 495.9L803.1 494.3L802.6 492.8" fill="none" stroke="#d7dbe9" stroke-width="0.7" stroke-linecap="round" stroke-linejoin="round"/>
<path d="M871.2 503.5L869.7 503.0L868.1 502.8L866.5 502.7L864.9 503.0L863.3 503.0" fill="none" stroke="#d7dbe9" stroke-width="1.2" stroke-linecap="round" stroke-linejoin="round"/>
<path d="M888.9 512.2L890.4 512.8L891.8 513.7" fill="none" stroke="#d7dbe9" stroke-width="0.8" stroke-linecap="round" stroke-linejoin="round"/>
<path d="M871.6 493.4L870.1 492.9L868.7 492.2" fill="none" stroke="#d7dbe9" stroke-width="0.9" stroke-linecap="round" stroke-linejoin="round"/>
<path d="M849.2 491.6L849.8 493.1L850.4 494.6L850.6 496.2L851.1 497.7L851.4 499.3" fill="none" stroke="#d7dbe9" stroke-width="0.9" stroke-linecap="round" stroke-linejoin="round"/>
<path d="M891.5 499.1L892.6 500.2L893.5 501.6" fill="none" stroke="#d7dbe9" stroke-width="1.2" stroke-linecap="round" stroke-linejoin="round"/>
<path d="M791.4 479.9L792.1 481.3L792.8 482.7" fill="none" stroke="#d7dbe9" stroke-width="0.8" stroke-linecap="round" stroke-linejoin="round"/>
<path d="M860.5 501.4L861.6 502.6L862.5 503.9L863.1 505.4L864.0 506.7" fill="none" stroke="#d7dbe9" stroke-width="1.1" stroke-linecap="round" stroke-linejoin="round"/>
<path d="M847.6 488.1L847.5 489.7L847.7 491.3L847.4 492.8L846.7 494.3" fill="none" stroke="#d7dbe9" stroke-width="0.9" stroke-linecap="round" stroke-linejoin="round"/>
<path d="M874.7 505.6L875.5 506.9L876.6 508.1L878.0 508.9L879.4 509.7L880.7 510.6" fill="none" stroke="#d7dbe9" stroke-width="1.3" stroke-linecap="round" stroke-linejoin="round"/>
<path d="M893.5 508.2L894.8 509.1L896.1 510.0L897.4 510.9" fill="none" stroke="#d7dbe9" stroke-width="1.0" stroke-linecap="round" stroke-linejoin="round"/>
<path d="M893.5 508.7L894.7 509.7L895.9 510.7L896.8 512.0L898.1 513.0" fill="none" stroke="#d7dbe9" stroke-width="1.1" stroke-linecap="round" stroke-linejoin="round"/>
<path d="M807.6 497.5L807.3 495.9L807.1 494.3" fill="none" stroke="#d7dbe9" stroke-width="0.8" stroke-linecap="round" stroke-linejoin="round"/>
<path d="M853.6 493.1L852.8 494.5L851.9 495.8L851.3 497.3" fill="none" stroke="#d7dbe9" stroke-width="1.2" stroke-linecap="round" stroke-linejoin="round"/>
<path d="M846.2 491.1L847.3 492.3L848.4 493.4" fill="none" stroke="#d7dbe9" stroke-width="0.8" stroke-linecap="round" stroke-linejoin="round"/>
<path d="M883.8 519.2L885.2 520.0L886.6 520.7L888.0 521.5L889.2 522.6" fill="none" stroke="#d7dbe9" stroke-width="0.8" stroke-linecap="round" stroke-linejoin="round"/>
<path d="M879.5 500.6L878.4 499.4L877.7 498.0" fill="none" stroke="#d7dbe9" stroke-width="0.8" stroke-linecap="round" stroke-linejoin="round"/>
<path d="M877.8 521.4L877.5 522.9L876.6 524.3L875.5 525.5" fill="none" stroke="#d7dbe9" stroke-width="0.9" stroke-linecap="round" stroke-linejoin="round"/>
<path d="M889.6 507.3L890.5 508.6L891.6 509.8" fill="none" stroke="#d7dbe9" stroke-width="1.2" stroke-linecap="round" stroke-linejoin="round"/>
<path d="M869.1 511.2L869.6 512.7L870.4 514.1L871.2 515.5L872.3 516.6" fill="none" stroke="#d7dbe9" stroke-width="0.8" stroke-linecap="round" stroke-linejoin="round"/>
<path d="M884.2 515.6L885.7 516.2L887.1 517.1" fill="none" stroke="#d7dbe9" stroke-width="1.1" stroke-linecap="round" stroke-linejoin="round"/>
<path d="M857.8 512.3L858.4 513.8L858.7 515.4L858.5 517.0L857.9 518.5L857.5 520.0" fill="none" stroke="#d7dbe9" stroke-width="1.2" stroke-linecap="round" stroke-linejoin="round"/>
<path d="M892.1 511.2L892.9 512.5L894.0 513.7L894.8 515.1L895.2 516.6" fill="none" stroke="#d7dbe9" stroke-width="0.8" stroke-linecap="round" stroke-linejoin="round"/>
<path d="M796.4 478.2L796.3 476.6L796.2 475.0L795.8 473.4" fill="none" stroke="#d7dbe9" stroke-width="0.9" stroke-linecap="round" stroke-linejoin="round"/>
<path d="M844.0 498.2L844.3 496.7L844.6 495.1L845.1 493.6" fill="none" stroke="#d7dbe9" stroke-width="1.3" stroke-linecap="round" stroke-linejoin="round"/>
<path d="M858.2 500.4L859.0 501.7L859.6 503.2L860.5 504.5" fill="none" stroke="#d7dbe9" stroke-width="1.1" stroke-linecap="round" stroke-linejoin="round"/>
<path d="M835.6 508.1L834.1 507.6" fill="none" stroke="#d7dbe9" stroke-width="1.2" stroke-linecap="round" stroke-linejoin="round"/>
<path d="M824.4 497.0L824.0 495.5L823.0 494.2L822.3 492.8L821.6 491.4L820.8 489.9" fill="none" stroke="#d7dbe9" stroke-width="0.9" stroke-linecap="round" stroke-linejoin="round"/>
<path d="M885.3 530.2L885.6 531.8L885.7 533.4L885.8 535.0L886.1 536.5" fill="none" stroke="#d7dbe9" stroke-width="0.8" stroke-linecap="round" stroke-linejoin="round"/>
<path d="M836.2 495.1L837.2 496.4L838.4 497.4L839.6 498.6" fill="none" stroke="#d7dbe9" stroke-width="1.1" stroke-linecap="round" stroke-linejoin="round"/>
<path d="M824.2 484.7L822.6 484.3L821.2 483.6L819.8 482.8" fill="none" stroke="#d7dbe9" stroke-width="1.1" stroke-linecap="round" stroke-linejoin="round"/>
<path d="M808.7 492.2L807.9 490.8L807.4 489.3L807.2 487.7L806.9 486.1" fill="none" stroke="#d7dbe9" stroke-width="1.2" stroke-linecap="round" stroke-linejoin="round"/>
<path d="M896.5 516.9L895.2 516.0L893.8 515.3L892.3 514.6L890.8 514.3L889.2 513.9" fill="none" stroke="#d7dbe9" stroke-width="0.7" stroke-linecap="round" stroke-linejoin="round"/>
<path d="M819.0 481.2L818.2 479.8L817.2 478.6" fill="none" stroke="#d7dbe9" stroke-width="0.9" stroke-linecap="round" stroke-linejoin="round"/>
<path d="M849.7 514.7L851.0 515.6L852.5 516.1L854.1 516.3L855.7 516.3" fill="none" stroke="#d7dbe9" stroke-width="1.1" stroke-linecap="round" stroke-linejoin="round"/>
<path d="M814.6 480.3L813.5 479.2L812.4 478.0L811.8 476.5L811.2 475.0" fill="none" stroke="#d7dbe9" stroke-width="0.9" stroke-linecap="round" stroke-linejoin="round"/>
<path d="M891.7 524.7L891.2 523.2L890.4 521.9" fill="none" stroke="#d7dbe9" stroke-width="0.7" stroke-linecap="round" stroke-linejoin="round"/>
<path d="M870.8 498.4L872.0 499.5L873.2 500.6L874.2 501.8L875.3 502.9" fill="none" stroke="#d7dbe9" stroke-width="0.7" stroke-linecap="round" stroke-linejoin="round"/>
<path d="M805.8 483.0L806.8 484.3L807.5 485.7L808.3 487.1L809.3 488.3L809.9 489.8" fill="none" stroke="#d7dbe9" stroke-width="1.2" stroke-linecap="round" stroke-linejoin="round"/>
<path d="M816.9 479.3L817.0 480.9L817.2 482.5L817.4 484.1" fill="none" stroke="#d7dbe9" stroke-width="1.1" stroke-linecap="round" stroke-linejoin="round"/>
<path d="M862.7 503.3L861.3 502.7L859.8 502.0L858.4 501.3" fill="none" stroke="#d7dbe9" stroke-width="1.0" stroke-linecap="round" stroke-linejoin="round"/>
<path d="M846.3 510.6L846.2 512.2L846.4 513.8L846.2 515.4L846.3 517.0" fill="none" stroke="#d7dbe9" stroke-width="0.9" stroke-linecap="round" stroke-linejoin="round"/>
<path d="M887.4 502.7L888.3 504.0L889.6 505.0L890.7 506.2" fill="none" stroke="#d7dbe9" stroke-width="1.2" stroke-linecap="round" stroke-linejoin="round"/>
<path d="M862.8 500.2L861.4 499.4L859.9 498.8" fill="none" stroke="#d7dbe9" stroke-width="1.3" stroke-linecap="round" stroke-linejoin="round"/>
<path d="M888.0 501.6L888.4 503.1L889.0 504.6L889.3 506.2L889.4 507.8" fill="none" stroke="#d7dbe9" stroke-width="0.8" stroke-linecap="round" stroke-linejoin="round"/>
<path d="M867.5 483.9L867.3 482.3L866.9 480.7" fill="none" stroke="#d7dbe9" stroke-width="1.2" stroke-linecap="round" stroke-linejoin="round"/>
<path d="M855.0 491.0L856.4 491.8L858.0 492.2L859.6 492.3L861.1 492.8" fill="none" stroke="#d7dbe9" stroke-width="1.1" stroke-linecap="round" stroke-linejoin="round"/>
<path d="M896.3 515.7L895.0 514.7L893.9 513.6L892.5 512.7L891.5 511.5L890.4 510.3" fill="none" stroke="#d7dbe9" stroke-width="0.9" stroke-linecap="round" stroke-linejoin="round"/>
<path d="M898.7 522.7L897.3 521.9L896.3 520.7L895.0 519.7L894.1 518.4" fill="none" stroke="#d7dbe9" stroke-width="0.8" stroke-linecap="round" stroke-linejoin="round"/>
<path d="M856.8 500.2L857.8 501.4L859.2 502.3" fill="none" stroke="#d7dbe9" stroke-width="1.0" stroke-linecap="round" stroke-linejoin="round"/>
<path d="M861.6 511.9L860.9 510.5L860.3 509.0L859.5 507.6L858.4 506.5L857.3 505.3" fill="none" stroke="#d7dbe9" stroke-width="0.9" stroke-linecap="round" stroke-linejoin="round"/>
<path d="M874.6 505.0L873.4 503.9L872.2 502.9L870.7 502.3" fill="none" stroke="#d7dbe9" stroke-width="0.8" stroke-linecap="round" stroke-linejoin="round"/>
<path d="M827.5 503.0L826.6 501.6L825.6 500.4L824.3 499.4" fill="none" stroke="#d7dbe9" stroke-width="0.9" stroke-linecap="round" stroke-linejoin="round"/>
<path d="M883.8 485.8L882.9 484.5L881.9 483.2L881.2 481.8L880.2 480.6" fill="none" stroke="#d7dbe9" stroke-width="1.2" stroke-linecap="round" stroke-linejoin="round"/>
<path d="M878.8 522.7L877.8 521.5L876.5 520.5" fill="none" stroke="#d7dbe9" stroke-width="0.9" stroke-linecap="round" stroke-linejoin="round"/>
<path d="M866.1 507.5L866.5 509.0L866.9 510.6L867.2 512.2" fill="none" stroke="#d7dbe9" stroke-width="0.9" stroke-linecap="round" stroke-linejoin="round"/>
<path d="M867.5 493.6L866.6 492.3L865.6 491.0" fill="none" stroke="#d7dbe9" stroke-width="0.9" stroke-linecap="round" stroke-linejoin="round"/>
<path d="M886.6 492.6L886.2 494.2L885.5 495.6L884.4 496.8" fill="none" stroke="#d7dbe9" stroke-width="0.8" stroke-linecap="round" stroke-linejoin="round"/>
<path d="M865.3 485.1L865.3 483.5" fill="none" stroke="#d7dbe9" stroke-width="1.1" stroke-linecap="round" stroke-linejoin="round"/>
<ellipse cx="839.0" cy="510.4" rx="0.7" ry="0.6" fill="#167c36"/>
<ellipse cx="841.4" cy="517.7" rx="0.9" ry="0.8" fill="#167c36"/>
<ellipse cx="845.0" cy="510.9" rx="0.9" ry="0.4" fill="#167c36"/>
<ellipse cx="851.7" cy="518.1" rx="0.8" ry="0.5" fill="#167c36"/>
<ellipse cx="831.2" cy="511.8" rx="0.7" ry="0.5" fill="#167c36"/>
<ellipse cx="866.5" cy="519.8" rx="0.7" ry="0.5" fill="#167c36"/>
<ellipse cx="868.8" cy="519.8" rx="0.7" ry="0.5" fill="#167c36"/>
<ellipse cx="811.0" cy="502.9" rx="0.8" ry="0.6" fill="#167c36"/>
<ellipse cx="833.7" cy="507.6" rx="0.4" ry="0.5" fill="#167c36"/>
<ellipse cx="844.0" cy="515.7" rx="0.8" ry="0.8" fill="#167c36"/>
<path d="M897.1 500.4L899.3 499.4L901.9 499.3L904.0 498.0L906.1 496.7L908.3 496.3L910.6 496.5L912.8 496.8L915.0 497.0L917.3 497.0L919.5 498.1L921.8 498.4L924.1 498.5L925.6 500.1L927.8 500.1L929.7 500.8L931.4 502.0L931.7 504.5L932.5 506.9L933.2 509.3L931.6 511.3L931.3 513.8L930.4 516.0L929.5 518.3L927.0 518.1L925.0 516.0L922.3 516.5L920.5 512.0L916.9 514.7L906.1 512.9L904.7 511.1L902.5 510.6L900.7 509.3L899.7 507.1L898.9 504.8L897.6 502.8Z" fill="#167c36"/>
<ellipse cx="936.3" cy="503.9" rx="3.2" ry="1.8" transform="rotate(40 936.3 503.9)" fill="#167c36"/>
<ellipse cx="935.5" cy="516.5" rx="3.1" ry="2.5" transform="rotate(0 935.5 516.5)" fill="#167c36"/>
<ellipse cx="947.2" cy="513.8" rx="3.3" ry="2.2" transform="rotate(-25 947.2 513.8)" fill="#167c36"/>
<path d="M913.3 528.2L914.4 529.5L914.5 531.9L917.0 531.5L918.1 529.8L920.0 529.5L921.5 529.7L922.3 531.7L924.1 530.9L923.8 532.5L925.6 533.6L924.9 535.3L925.0 536.8L926.0 538.1L926.8 539.5L926.7 541.8L928.6 541.9L930.6 542.1L931.4 543.5L931.4 545.1L930.4 546.4L930.5 548.0L929.4 549.5L927.7 550.1L926.0 550.7L925.7 548.9L924.3 547.9L922.8 547.0L922.3 545.3L920.5 543.3L918.9 543.6L917.5 545.3L916.0 546.0L914.5 545.5L912.8 545.5L911.4 544.2L909.7 544.4L911.1 543.7L912.5 542.9L914.2 543.1L915.5 542.0L917.2 542.2L918.7 541.7L918.9 540.1L918.4 538.8L916.9 537.8L916.9 536.3L915.8 535.2L915.6 533.6L915.2 532.2L914.0 531.1L914.0 529.5Z" fill="#167c36"/>
<path d="M916.3 529.3L915.9 530.7L915.1 532.0L914.1 533.1" fill="none" stroke="#d7dbe9" stroke-width="1.2" stroke-linecap="round" stroke-linejoin="round"/>
<path d="M915.2 528.5L913.9 529.3L912.5 529.8" fill="none" stroke="#d7dbe9" stroke-width="1.0" stroke-linecap="round" stroke-linejoin="round"/>
<path d="M916.9 530.2L917.7 531.4" fill="none" stroke="#d7dbe9" stroke-width="0.9" stroke-linecap="round" stroke-linejoin="round"/>
<path d="M920.7 528.6L920.7 530.1L920.7 531.6" fill="none" stroke="#d7dbe9" stroke-width="0.9" stroke-linecap="round" stroke-linejoin="round"/>
<path d="M926.2 534.3L924.9 535.1L923.7 535.9" fill="none" stroke="#d7dbe9" stroke-width="0.9" stroke-linecap="round" stroke-linejoin="round"/>
<path d="M925.2 531.5L924.2 532.6L923.0 533.4" fill="none" stroke="#d7dbe9" stroke-width="0.8" stroke-linecap="round" stroke-linejoin="round"/>
<path d="M928.8 539.5L927.4 540.0L926.0 540.4" fill="none" stroke="#d7dbe9" stroke-width="1.1" stroke-linecap="round" stroke-linejoin="round"/>
<path d="M930.7 541.5L929.3 541.9" fill="none" stroke="#d7dbe9" stroke-width="1.3" stroke-linecap="round" stroke-linejoin="round"/>
<path d="M932.2 545.0L930.8 545.4L929.5 546.2" fill="none" stroke="#d7dbe9" stroke-width="0.9" stroke-linecap="round" stroke-linejoin="round"/>
<path d="M932.5 543.4L931.0 543.8L929.5 543.9" fill="none" stroke="#d7dbe9" stroke-width="1.3" stroke-linecap="round" stroke-linejoin="round"/>
<path d="M928.4 550.6L927.0 550.0L925.7 549.2" fill="none" stroke="#d7dbe9" stroke-width="1.1" stroke-linecap="round" stroke-linejoin="round"/>
<path d="M926.7 551.5L926.9 550.0L926.7 548.5L926.3 547.1" fill="none" stroke="#d7dbe9" stroke-width="1.1" stroke-linecap="round" stroke-linejoin="round"/>
<path d="M924.1 549.7L924.9 548.4L926.0 547.4" fill="none" stroke="#d7dbe9" stroke-width="1.1" stroke-linecap="round" stroke-linejoin="round"/>
<path d="M924.2 549.6L925.6 550.0L927.1 550.4" fill="none" stroke="#d7dbe9" stroke-width="1.1" stroke-linecap="round" stroke-linejoin="round"/>
<path d="M921.4 546.3L922.4 545.2L923.7 544.3" fill="none" stroke="#d7dbe9" stroke-width="1.0" stroke-linecap="round" stroke-linejoin="round"/>
<path d="M916.3 547.2L916.4 545.7" fill="none" stroke="#d7dbe9" stroke-width="1.1" stroke-linecap="round" stroke-linejoin="round"/>
<path d="M911.2 545.7L912.4 544.8L913.3 543.6" fill="none" stroke="#d7dbe9" stroke-width="0.9" stroke-linecap="round" stroke-linejoin="round"/>
<path d="M910.7 545.9L910.5 544.4L909.7 543.1" fill="none" stroke="#d7dbe9" stroke-width="0.9" stroke-linecap="round" stroke-linejoin="round"/>
<path d="M909.6 543.3L910.3 544.6L911.2 545.9" fill="none" stroke="#d7dbe9" stroke-width="1.0" stroke-linecap="round" stroke-linejoin="round"/>
<path d="M914.4 542.0L914.1 543.5L913.4 544.8" fill="none" stroke="#d7dbe9" stroke-width="1.1" stroke-linecap="round" stroke-linejoin="round"/>
<path d="M916.5 541.1L917.6 542.2L918.8 543.1" fill="none" stroke="#d7dbe9" stroke-width="1.2" stroke-linecap="round" stroke-linejoin="round"/>
<path d="M917.8 541.8L918.1 540.3L918.4 538.9" fill="none" stroke="#d7dbe9" stroke-width="1.0" stroke-linecap="round" stroke-linejoin="round"/>
<path d="M917.2 540.9L918.7 540.6L920.2 540.7" fill="none" stroke="#d7dbe9" stroke-width="0.9" stroke-linecap="round" stroke-linejoin="round"/>
<path d="M912.2 528.1L913.6 528.7L914.7 529.7" fill="none" stroke="#d7dbe9" stroke-width="1.0" stroke-linecap="round" stroke-linejoin="round"/>
<path d="M914.8 534.3L916.0 533.4L917.3 532.7" fill="none" stroke="#d7dbe9" stroke-width="0.8" stroke-linecap="round" stroke-linejoin="round"/>
<path d="M915.7 536.5L917.0 535.8L918.3 535.0" fill="none" stroke="#d7dbe9" stroke-width="1.0" stroke-linecap="round" stroke-linejoin="round"/>
<path d="M921.6 531.2L921.1 529.7L920.8 528.1L920.1 526.6" fill="none" stroke="#d7dbe9" stroke-width="1.1" stroke-linecap="round" stroke-linejoin="round"/>
<path d="M923.8 533.1L924.8 534.3" fill="none" stroke="#d7dbe9" stroke-width="0.7" stroke-linecap="round" stroke-linejoin="round"/>
<path d="M924.8 534.8L923.6 533.8L922.3 532.8" fill="none" stroke="#d7dbe9" stroke-width="1.1" stroke-linecap="round" stroke-linejoin="round"/>
<path d="M922.1 534.6L923.6 535.1" fill="none" stroke="#d7dbe9" stroke-width="1.0" stroke-linecap="round" stroke-linejoin="round"/>
<path d="M917.6 534.7L916.2 534.0" fill="none" stroke="#d7dbe9" stroke-width="0.8" stroke-linecap="round" stroke-linejoin="round"/>
<path d="M926.5 545.8L927.4 547.1" fill="none" stroke="#d7dbe9" stroke-width="1.0" stroke-linecap="round" stroke-linejoin="round"/>
<path d="M918.5 537.8L919.8 538.8" fill="none" stroke="#d7dbe9" stroke-width="1.0" stroke-linecap="round" stroke-linejoin="round"/>
<path d="M927.7 549.1L926.4 548.1" fill="none" stroke="#d7dbe9" stroke-width="0.9" stroke-linecap="round" stroke-linejoin="round"/>
<path d="M656.700 491.800L676.600 551" fill="none" stroke="#cfe9c6" stroke-width="1.4"/>
<path d="M657.6 491.2L670.4 490.4L674.4 486.4L673.7 484.2L672.2 482.4L672.0 480.0L674.1 478.7L676.2 477.2L678.4 476.0L679.3 473.6L680.8 471.6L682.4 469.6L684.6 468.7L686.1 466.9L688.0 465.6L689.6 464.0L691.3 462.3L693.3 461.2L695.3 460.0L701.7 459.2L695.3 465.6L694.7 467.8L694.8 470.1L694.1 472.2L693.7 474.4L693.2 476.6L692.4 478.8L691.5 480.9L691.2 483.2L690.8 485.2L690.7 487.2L691.1 489.2L690.4 491.2L688.0 498.5L692.5 505.7L677.2 550.5Z" fill="#167c36"/>
<circle cx="697.0" cy="457.0" r="0.7" fill="#4f8f63"/>
<circle cx="702.0" cy="455.5" r="0.6" fill="#4f8f63"/>
<circle cx="707.0" cy="453.5" r="0.5" fill="#4f8f63"/>
<circle cx="700.0" cy="469.0" r="0.5" fill="#4f8f63"/>
<circle cx="703.0" cy="472.0" r="0.4" fill="#4f8f63"/>
</g>
</svg>

<div class="b lg ll" style="top:557.1px;background:linear-gradient(90deg,#0d150f,#12271a)"></div>
<div class="b lg ll" style="top:587.3px;background:linear-gradient(90deg,#14231a,#183a23)"></div>
<div class="b lg ll" style="top:617.4px;background:#1a5329"></div>
<div class="b lg ll" style="top:647.7px;background:#137a36"></div>
<div class="b lg ll" style="top:678px;background:#27a83c"></div>
<div class="b lg lr" style="top:555.8px;background:#1f9f3f"></div>
<div class="b lg lr" style="top:586.2px;background:#3aab36"></div>
<div class="b lg lr" style="top:616.5px;background:#69a625"></div>
<div class="b lg lr" style="top:646.9px;background:#8db81f"></div>
<div class="b lg lr" style="top:677px;background:#aebb2b"></div>
<div class="b nb" style="left:557px"></div><div class="b nb" style="left:769px"></div>
<div class="b nb" style="left:777.4px"></div><div class="b nb" style="left:989.5px"></div>

<!-- plan de accion icon + underline -->
<svg class="b" style="left:898px;top:26px" width="27" height="16" viewBox="0 0 27 16"><g fill="none" stroke="#bcc0da" stroke-width="1.6" stroke-dasharray="1.5 1.200"><path d="M1.200 14.500a12.300 12.300 0 0 1 24.600 0"/><path d="M4.800 14.500a8.700 8.700 0 0 1 17.400 0"/><path d="M8.400 14.500a5.100 5.100 0 0 1 10.200 0"/></g></svg>
<div class="b" style="left:926.3px;top:40.500px;width:26.6px;height:1.8px;background:#4a68a8"></div>
<div class="b" style="left:952.900px;top:40.500px;width:37.6px;height:1.8px;background:#dc6a66"></div>

<span class="t" style="left:114.88px;top:22.15px;font-size:39.71px;font-weight:700;color:#1263ab;transform:scaleX(0.8124)">REPORTE</span>
<span class="t" style="left:283.63px;top:22.15px;font-size:39.71px;font-weight:700;color:#1263ab;transform:scaleX(0.8855)">DIARIO</span>
<span class="t" style="left:418.19px;top:22.15px;font-size:39.71px;font-weight:700;color:#1263ab;transform:scaleX(0.9076)">COVID</span>
<span class="t" style="left:534.64px;top:22.15px;font-size:39.71px;font-weight:700;color:#1263ab;transform:scaleX(0.7600)">–</span>
<span class="t" style="left:554.95px;top:22.71px;font-size:38.59px;font-weight:700;color:#1263ab;transform:scaleX(1.0234)">19</span>
<span class="t" style="left:114.06px;top:61.34px;font-size:45.36px;font-weight:400;color:#1263ab;transform:scaleX(0.8136)">REGIÓN</span>
<span class="t" style="left:272.80px;top:61.34px;font-size:45.36px;font-weight:400;color:#1263ab;transform:scaleX(0.7999)">DE</span>
<span class="t" style="left:336.13px;top:61.34px;font-size:45.36px;font-weight:400;color:#1263ab;transform:scaleX(0.8579)">MAGALLANES</span>
<span class="t" style="left:25.47px;top:115.75px;font-size:30.29px;font-weight:400;color:#fff;transform:scaleX(0.8311)">SÁBADO</span>
<span class="t" style="left:140.25px;top:115.75px;font-size:30.29px;font-weight:700;color:#fff;transform:scaleX(0.9533)">15 MAYO</span>
<span class="t" style="left:273.00px;top:116.18px;font-size:29.44px;font-weight:400;color:#fff;transform:scaleX(1.0045)">2021</span>
<span class="t" style="left:112.56px;top:169.36px;font-size:48.59px;font-weight:700;color:#fff;-webkit-text-stroke:1.3px #fff;transform:scaleX(1.0685)">76</span>
<span class="t" style="left:35.80px;top:219.96px;font-size:16.52px;font-weight:400;color:#fff;transform:scaleX(0.8378)">CASOS NUEVOS EN LA REGIÓN</span>
<span class="t" style="left:61.61px;top:259.02px;font-size:48.17px;font-weight:700;color:#fff;-webkit-text-stroke:1.3px #fff;transform:scaleX(1.1056)">26.719</span>
<span class="t" style="left:90.40px;top:310.86px;font-size:16.52px;font-weight:400;color:#fff;transform:scaleX(0.8830)">ACUMULADOS</span>
<span class="t" style="left:296.56px;top:174.32px;font-size:30.56px;font-weight:700;color:#fff;-webkit-text-stroke:0.8px #fff;transform:scaleX(1.0635)">604</span>
<span class="t" style="left:384.20px;top:178.78px;font-size:23.91px;font-weight:400;color:#fff;transform:scaleX(0.7760)">ACTIVOS</span>
<span class="t" style="left:275.97px;top:236.06px;font-size:30.28px;font-weight:700;color:#fff;-webkit-text-stroke:0.8px #fff;transform:scaleX(1.0509)">25.717</span>
<span class="t" style="left:383.41px;top:239.62px;font-size:23.04px;font-weight:400;color:#fff;transform:scaleX(0.7948)">RECUPERADOS</span>
<span class="t" style="left:299.32px;top:297.56px;font-size:30.28px;font-weight:700;color:#fff;-webkit-text-stroke:0.8px #fff;transform:scaleX(1.0403)">386</span>
<span class="t" style="left:383.40px;top:300.50px;font-size:23.77px;font-weight:400;color:#fff;transform:scaleX(0.7993)">FALLECIDOS</span>
<span class="t" style="left:20.14px;top:358.24px;font-size:21.01px;font-weight:400;color:#fff;transform:scaleX(0.8642)">HOSPITALIZADOS</span>
<span class="t" style="left:184.00px;top:358.24px;font-size:21.01px;font-weight:400;color:#fff;transform:scaleX(0.6583)">–</span>
<span class="t" style="left:196.86px;top:358.24px;font-size:21.01px;font-weight:400;color:#fff;transform:scaleX(0.8431)">RED</span>
<span class="t" style="left:238.56px;top:358.24px;font-size:21.01px;font-weight:400;color:#fff;transform:scaleX(0.8353)">INTEGRADA</span>
<span class="t" style="left:346.70px;top:358.24px;font-size:21.01px;font-weight:400;color:#fff;transform:scaleX(0.7953)">DE</span>
<span class="t" style="left:376.50px;top:358.24px;font-size:21.01px;font-weight:400;color:#fff;transform:scaleX(0.8374)">SALUD</span>
<span class="t" style="left:23.97px;top:390.51px;font-size:41.27px;font-weight:700;color:#fff;-webkit-text-stroke:1.0px #fff;transform:scaleX(1.0679)">83</span>
<span class="t" style="left:79.50px;top:395.00px;font-size:15.65px;font-weight:700;color:#fff;transform:scaleX(0.8983)">PACIENTES COVID</span>
<span class="t" style="left:79.52px;top:414.92px;font-size:16.09px;font-weight:700;color:#fff;transform:scaleX(0.8807)">HOSPITALIZADOS</span>
<span class="t" style="left:218.02px;top:390.51px;font-size:41.27px;font-weight:700;color:#fff;-webkit-text-stroke:1.0px #fff;transform:scaleX(1.0337)">41</span>
<span class="t" style="left:273.50px;top:395.00px;font-size:15.65px;font-weight:700;color:#fff;transform:scaleX(0.9186)">CAMAS UCI</span>
<span class="t" style="left:273.50px;top:414.92px;font-size:16.09px;font-weight:700;color:#fff;transform:scaleX(0.8563)">OCUPADAS</span>
<span class="t" style="left:388.70px;top:390.51px;font-size:41.27px;font-weight:700;color:#fff;-webkit-text-stroke:1.0px #fff;transform:scaleX(1.0045)">7</span>
<span class="t" style="left:431.00px;top:395.00px;font-size:15.65px;font-weight:700;color:#fff;transform:scaleX(0.9118)">CAMAS UCI</span>
<span class="t" style="left:430.13px;top:414.92px;font-size:16.09px;font-weight:700;color:#fff;transform:scaleX(0.8728)">DISPONIBLES</span>
<span class="t" style="left:20.17px;top:458.84px;font-size:21.01px;font-weight:400;color:#fff;transform:scaleX(0.8328)">EXÁMENES PCR</span>
<span class="t" style="left:38.46px;top:488.11px;font-size:41.27px;font-weight:700;color:#fff;-webkit-text-stroke:1.0px #fff;transform:scaleX(1.0869)">960</span>
<span class="t" style="left:138.76px;top:494.56px;font-size:15.22px;font-weight:700;color:#fff;transform:scaleX(0.9417)">NÚMERO DE</span>
<span class="t" style="left:138.83px;top:514.25px;font-size:15.94px;font-weight:700;color:#fff;transform:scaleX(0.8742)">MUESTRAS DIARIAS</span>
<span class="t" style="left:336.46px;top:487.01px;font-size:43.24px;font-weight:700;color:#fff;-webkit-text-stroke:1.0px #fff;transform:scaleX(1.0702)">7%</span>
<span class="t" style="left:427.45px;top:494.56px;font-size:15.22px;font-weight:700;color:#fff;transform:scaleX(0.9537)">POSITIVIDAD</span>
<span class="t" style="left:427.51px;top:514.25px;font-size:15.94px;font-weight:700;color:#fff;transform:scaleX(0.8881)">DIARIA</span>
<span class="t" style="left:21.54px;top:554.74px;font-size:21.01px;font-weight:400;color:#fff;transform:scaleX(0.8589)">FISCALIZACIONES</span>
<span class="t" style="left:17.94px;top:588.49px;font-size:24.08px;font-weight:700;color:#fff;-webkit-text-stroke:0.6px #fff;transform:scaleX(1.0911)">137.103</span>
<span class="t" style="left:123.40px;top:587.24px;font-size:15.36px;font-weight:700;color:#fff;transform:scaleX(0.8980)">TOTAL FISCALIZACIONES</span>
<span class="t" style="left:123.40px;top:602.56px;font-size:15.22px;font-weight:700;color:#fff;transform:scaleX(0.9569)">A DOMICILIO COVID+</span>
<span class="t" style="left:308.55px;top:588.49px;font-size:24.08px;font-weight:700;color:#fff;-webkit-text-stroke:0.6px #fff;transform:scaleX(1.0713)">1.183</span>
<span class="t" style="left:383.90px;top:581.44px;font-size:15.36px;font-weight:700;color:#fff;transform:scaleX(0.9257)">SUMARIOS</span>
<span class="t" style="left:382.96px;top:595.94px;font-size:15.36px;font-weight:700;color:#fff;transform:scaleX(0.9353)">FISCALIZACIÓN</span>
<span class="t" style="left:383.90px;top:610.44px;font-size:15.36px;font-weight:700;color:#fff;transform:scaleX(0.9525)">A DOMICILIO COVID+</span>
<span class="t" style="left:20.13px;top:651.05px;font-size:20.29px;font-weight:400;color:#fff;transform:scaleX(0.8731)">RESIDENCIAS SANITARIAS</span>
<span class="t" style="left:25.43px;top:682.31px;font-size:41.27px;font-weight:700;color:#fff;-webkit-text-stroke:1.0px #fff;transform:scaleX(1.1142)">116</span>
<span class="t" style="left:113.82px;top:688.95px;font-size:15.94px;font-weight:700;color:#fff;transform:scaleX(0.8802)">HABITACIONES</span>
<span class="t" style="left:113.78px;top:709.36px;font-size:15.22px;font-weight:700;color:#fff;transform:scaleX(0.9244)">DISPONIBLES</span>
<span class="t" style="left:556.14px;top:160.55px;font-size:20.29px;font-weight:400;color:#2570b4;transform:scaleX(0.8578)">CASOS</span>
<span class="t" style="left:622.70px;top:160.55px;font-size:20.29px;font-weight:400;color:#2570b4;transform:scaleX(0.8399)">TOTALES</span>
<span class="t" style="left:704.00px;top:160.55px;font-size:20.29px;font-weight:400;color:#2570b4;transform:scaleX(0.9047)">ACUMULADOS</span>
<span class="t" style="left:837.83px;top:160.55px;font-size:20.29px;font-weight:400;color:#2570b4;transform:scaleX(0.8699)">POR</span>
<span class="t" style="left:880.28px;top:160.55px;font-size:20.29px;font-weight:400;color:#2570b4;transform:scaleX(0.9229)">COMUNA</span>
<span class="t" style="left:563.46px;top:561.96px;font-size:17.11px;font-weight:400;color:#fff;-webkit-text-stroke:0.5px #fff;transform:scaleX(1.1403)">21.602</span>
<span class="t" style="left:568.54px;top:591.39px;font-size:18.24px;font-weight:400;color:#fff;-webkit-text-stroke:0.5px #fff;transform:scaleX(1.0644)">3.579</span>
<span class="t" style="left:576.34px;top:622.13px;font-size:17.96px;font-weight:400;color:#fff;-webkit-text-stroke:0.5px #fff;transform:scaleX(1.0855)">842</span>
<span class="t" style="left:576.84px;top:652.29px;font-size:18.24px;font-weight:400;color:#fff;-webkit-text-stroke:0.5px #fff;transform:scaleX(1.0738)">350</span>
<span class="t" style="left:581.95px;top:682.77px;font-size:17.68px;font-weight:400;color:#fff;-webkit-text-stroke:0.5px #fff;transform:scaleX(1.1204)">67</span>
<span class="t" style="left:580.91px;top:710.56px;font-size:16.62px;font-weight:400;color:#263466;-webkit-text-stroke:0.9px #263466;transform:scaleX(1.1287)">81</span>
<span class="t" style="left:628.24px;top:562.16px;font-size:16.52px;font-weight:700;color:#fff;transform:scaleX(0.8614)">PUNTA ARENAS</span>
<span class="t" style="left:628.26px;top:592.06px;font-size:16.52px;font-weight:700;color:#fff;transform:scaleX(0.8386)">PUERTO NATALES</span>
<span class="t" style="left:628.22px;top:622.46px;font-size:16.52px;font-weight:700;color:#fff;transform:scaleX(0.8796)">PORVENIR</span>
<span class="t" style="left:629.10px;top:652.83px;font-size:16.67px;font-weight:700;color:#fff;transform:scaleX(0.8541)">CABO DE HORNOS</span>
<span class="t" style="left:629.10px;top:683.36px;font-size:16.52px;font-weight:700;color:#fff;transform:scaleX(0.8455)">SAN GREGORIO</span>
<span class="t" style="left:629.10px;top:711.33px;font-size:12.90px;font-weight:700;color:#263466;transform:scaleX(0.7708)">OTRAS REGIONES</span>
<span class="t" style="left:801.94px;top:560.53px;font-size:17.96px;font-weight:400;color:#fff;-webkit-text-stroke:0.5px #fff;transform:scaleX(1.0575)">52</span>
<span class="t" style="left:801.94px;top:590.93px;font-size:17.96px;font-weight:400;color:#fff;-webkit-text-stroke:0.5px #fff;transform:scaleX(1.0575)">39</span>
<span class="t" style="left:801.94px;top:621.33px;font-size:17.96px;font-weight:400;color:#fff;-webkit-text-stroke:0.5px #fff;transform:scaleX(1.0575)">24</span>
<span class="t" style="left:801.67px;top:651.83px;font-size:17.96px;font-weight:400;color:#fff;-webkit-text-stroke:0.5px #fff;transform:scaleX(1.0707)">17</span>
<span class="t" style="left:801.61px;top:682.34px;font-size:17.25px;font-weight:400;color:#fff;-webkit-text-stroke:0.5px #fff;transform:scaleX(1.1528)">12</span>
<span class="t" style="left:795.87px;top:709.95px;font-size:17.32px;font-weight:400;color:#263466;-webkit-text-stroke:0.9px #263466;transform:scaleX(1.0473)">54</span>
<span class="t" style="left:848.51px;top:560.86px;font-size:16.52px;font-weight:700;color:#fff;transform:scaleX(0.8943)">PRIMAVERA</span>
<span class="t" style="left:849.40px;top:591.26px;font-size:16.52px;font-weight:700;color:#fff;transform:scaleX(0.8893)">TIMAUKEL</span>
<span class="t" style="left:848.53px;top:621.76px;font-size:16.52px;font-weight:700;color:#fff;transform:scaleX(0.8714)">LAGUNA BLANCA</span>
<span class="t" style="left:849.40px;top:652.16px;font-size:16.52px;font-weight:700;color:#fff;transform:scaleX(0.8483)">TORRES DEL PAINE</span>
<span class="t" style="left:848.53px;top:683.36px;font-size:16.52px;font-weight:700;color:#fff;transform:scaleX(0.8716)">RÍO VERDE</span>
<span class="t" style="left:839.70px;top:711.33px;font-size:12.90px;font-weight:700;color:#263466;transform:scaleX(0.8238)">CASOS SIN NOTIFICACIÓN</span>
<span class="t" style="left:926.00px;top:31.76px;font-size:8.99px;font-weight:400;color:#48689b;transform:scaleX(0.8621)">PLAN DE ACCIÓN</span>
<span class="t" style="left:864.34px;top:43.89px;font-size:17.54px;font-weight:700;color:#3a9ad0;-webkit-text-stroke:0.5px #3a9ad0;transform:scaleX(0.9649)">CORONAVIRUS</span>
<span class="t" style="left:960.40px;top:59.60px;font-size:8.12px;font-weight:400;color:#7f88b2;transform:scaleX(0.7707)">COVID–19</span>
<span class="t" style="left:59.40px;top:31.56px;font-size:7.10px;font-weight:700;color:#fdeced;transform:scaleX(0.9072)">SEREMI</span>
<span class="t" style="left:59.40px;top:39.75px;font-size:5.94px;font-weight:700;color:#fbdadc;transform:scaleX(0.6867)">Región de Magallanes</span>
<span class="t" style="left:59.40px;top:45.62px;font-size:6.09px;font-weight:700;color:#fbdadc;transform:scaleX(0.6789)">y de la Antártica</span>
<span class="t" style="left:59.40px;top:51.14px;font-size:5.36px;font-weight:700;color:#fbdadc;transform:scaleX(0.7263)">Chilena</span>
<span class="t" style="left:60.00px;top:87.60px;font-size:6.23px;font-weight:700;color:#fbdadc;transform:scaleX(0.8947)">Ministerio de</span>
<span class="t" style="left:60.00px;top:94.08px;font-size:6.38px;font-weight:700;color:#fbdadc;transform:scaleX(0.8991)">Salud</span>
</body>
</html>
